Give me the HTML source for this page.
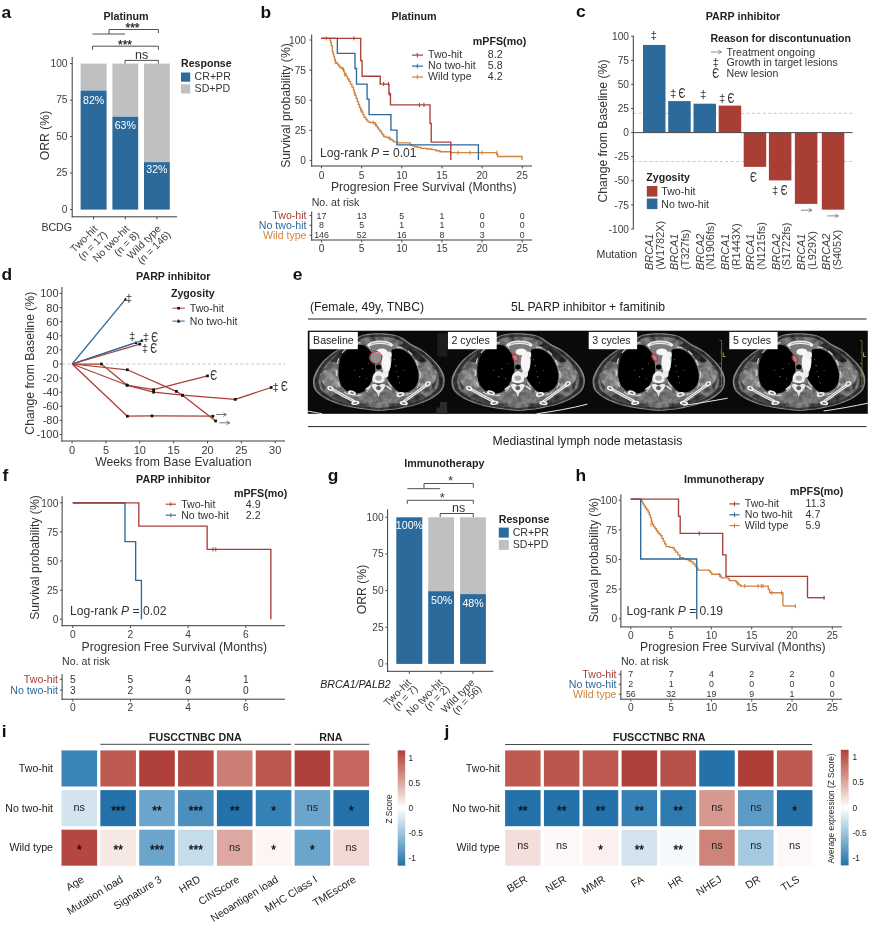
<!DOCTYPE html>
<html lang="en">
<head>
<meta charset="utf-8">
<title>Figure</title>
<style>
html,body{margin:0;padding:0;background:#ffffff;}
body{width:869px;height:928px;overflow:hidden;font-family:"Liberation Sans", Arial, sans-serif;}
svg{display:block;will-change:transform;}
svg text{font-family:"Liberation Sans", Arial, sans-serif;}
</style>
</head>
<body>
<svg width="869" height="928" viewBox="0 0 869 928">
<rect x="0" y="0" width="869" height="928" fill="#ffffff"/>
<g id="panel-a">
<text x="1.40" y="18.20" font-size="17.4" text-anchor="start" fill="#111" font-weight="bold">a</text>
<text x="126.00" y="20.23" font-size="10.7" text-anchor="middle" fill="#222" font-weight="bold">Platinum</text>
<path d="M92.5,34H125" fill="none" stroke="#3c3c3c" stroke-width="0.9" stroke-linejoin="miter"/>
<path d="M109.00,34.00V29.50H158.40V33.00" fill="none" stroke="#3c3c3c" stroke-width="0.9" stroke-linejoin="miter"/>
<text x="132.5" y="31.9" font-size="12" text-anchor="middle" fill="#222" stroke="#222" stroke-width="0.25">***</text>
<path d="M92.50,49.80V46.20H158.40V49.80" fill="none" stroke="#3c3c3c" stroke-width="0.9" stroke-linejoin="miter"/>
<text x="125" y="48.8" font-size="12" text-anchor="middle" fill="#222" stroke="#222" stroke-width="0.25">***</text>
<path d="M125.00,63.80V60.40H158.40V63.80" fill="none" stroke="#3c3c3c" stroke-width="0.9" stroke-linejoin="miter"/>
<text x="141.60" y="59.08" font-size="12.5" text-anchor="middle" fill="#333">ns</text>
<rect x="80.60" y="63.60" width="26.00" height="27.01" fill="#bfc0c2"/>
<rect x="80.60" y="90.61" width="26.00" height="118.99" fill="#2c6a9b"/>
<rect x="112.40" y="63.60" width="25.80" height="53.14" fill="#bfc0c2"/>
<rect x="112.40" y="116.74" width="25.80" height="92.86" fill="#2c6a9b"/>
<rect x="144.00" y="63.60" width="25.80" height="98.55" fill="#bfc0c2"/>
<rect x="144.00" y="162.15" width="25.80" height="47.45" fill="#2c6a9b"/>
<text x="93.60" y="104.09" font-size="10.6" text-anchor="middle" fill="#ffffff">82%</text>
<text x="125.30" y="129.09" font-size="10.6" text-anchor="middle" fill="#ffffff">63%</text>
<text x="156.90" y="173.39" font-size="10.6" text-anchor="middle" fill="#ffffff">32%</text>
<line x1="72.20" y1="57.00" x2="72.20" y2="217.20" stroke="#3c3c3c" stroke-width="1"/>
<line x1="71.70" y1="216.80" x2="177.00" y2="216.80" stroke="#3c3c3c" stroke-width="1"/>
<line x1="70.00" y1="63.60" x2="72.20" y2="63.60" stroke="#3c3c3c" stroke-width="0.9"/>
<text x="67.50" y="66.75" font-size="10.2" text-anchor="end" fill="#3d3d3d">100</text>
<line x1="70.00" y1="100.10" x2="72.20" y2="100.10" stroke="#3c3c3c" stroke-width="0.9"/>
<text x="67.50" y="103.25" font-size="10.2" text-anchor="end" fill="#3d3d3d">75</text>
<line x1="70.00" y1="136.60" x2="72.20" y2="136.60" stroke="#3c3c3c" stroke-width="0.9"/>
<text x="67.50" y="139.75" font-size="10.2" text-anchor="end" fill="#3d3d3d">50</text>
<line x1="70.00" y1="173.10" x2="72.20" y2="173.10" stroke="#3c3c3c" stroke-width="0.9"/>
<text x="67.50" y="176.25" font-size="10.2" text-anchor="end" fill="#3d3d3d">25</text>
<line x1="70.00" y1="209.60" x2="72.20" y2="209.60" stroke="#3c3c3c" stroke-width="0.9"/>
<text x="67.50" y="212.75" font-size="10.2" text-anchor="end" fill="#3d3d3d">0</text>
<line x1="93.60" y1="216.80" x2="93.60" y2="219.40" stroke="#3c3c3c" stroke-width="0.9"/>
<line x1="125.30" y1="216.80" x2="125.30" y2="219.40" stroke="#3c3c3c" stroke-width="0.9"/>
<line x1="156.90" y1="216.80" x2="156.90" y2="219.40" stroke="#3c3c3c" stroke-width="0.9"/>
<text transform="translate(44.50,135.50) rotate(-90)" x="0" y="4.37" font-size="12.2" text-anchor="middle" fill="#333333">ORR (%)</text>
<text x="41.40" y="231.19" font-size="10.6" text-anchor="start" fill="#333">BCDG</text>
<g transform="translate(95.10,226.3) rotate(-45)"><text x="0" y="4.5" font-size="10.4" text-anchor="end" fill="#3d3d3d">Two-hit</text><text x="2.8" y="15.4" font-size="10.4" text-anchor="end" fill="#3d3d3d">(n = 17)</text></g>
<g transform="translate(126.80,226.3) rotate(-45)"><text x="0" y="4.5" font-size="10.4" text-anchor="end" fill="#3d3d3d">No two-hit</text><text x="2.8" y="15.4" font-size="10.4" text-anchor="end" fill="#3d3d3d">(n = 8)</text></g>
<g transform="translate(158.40,226.3) rotate(-45)"><text x="0" y="4.5" font-size="10.4" text-anchor="end" fill="#3d3d3d">Wild type</text><text x="2.8" y="15.4" font-size="10.4" text-anchor="end" fill="#3d3d3d">(n = 146)</text></g>
<text x="181.00" y="66.79" font-size="10.6" text-anchor="start" fill="#222" font-weight="bold">Response</text>
<rect x="181.00" y="72.50" width="9.20" height="9.20" fill="#2c6a9b"/>
<text x="194.60" y="80.39" font-size="10.6" text-anchor="start" fill="#333">CR+PR</text>
<rect x="181.00" y="84.30" width="9.20" height="9.20" fill="#bfc0c2"/>
<text x="194.60" y="92.39" font-size="10.6" text-anchor="start" fill="#333">SD+PD</text>
</g>
<g id="panel-b">
<text x="260.40" y="18.00" font-size="17.4" text-anchor="start" fill="#111" font-weight="bold">b</text>
<text x="414.00" y="20.23" font-size="10.7" text-anchor="middle" fill="#222" font-weight="bold">Platinum</text>
<path d="M321.34,38.34H329.34V38.34H330.09V40.30H330.70V42.94H331.30V45.58H332.36V51.62H333.11V54.26H333.87V56.91H334.62V59.55H335.38V62.19H336.51V63.32H337.64V64.45H338.77V65.96H339.91V67.47H341.42V68.23H342.92V68.98H343.68V71.25H344.43V73.51H345.94V76.15H347.45V78.79H348.96V81.43H350.47V84.08H351.98V87.09H353.49V90.11H354.25V92.75H355.00V95.40H356.13V98.42H357.26V101.43H358.40V104.45H359.53V107.47H360.66V109.74H361.79V112.00H362.92V114.64H364.06V117.28H365.57V119.17H367.08V121.06H368.58V121.81H370.09V122.57H373.87V122.57H375.00V124.08H376.13V125.58H377.26V127.47H378.40V129.36H379.91V131.25H381.42V133.13H382.55V134.79H383.68V136.45H385.57V137.06H387.45V137.66H388.96V138.42H390.47V139.17H391.98V140.53H393.49V141.89H397.26V142.94H409.34V142.94H410.09V144.91H412.36V145.81H414.62V146.72H417.64V147.32H420.66V147.92H421.46V148.32H426.76V148.98H432.05V149.64H436.02V150.70H439.99V151.76H450.58V152.55H495.58V152.55H496.64V154.54H497.69V156.52H522.05V156.52H522.05V159.96" fill="none" stroke="#cf843f" stroke-width="1.35" stroke-linejoin="miter"/>
<path d="M326.32,36.24V40.44M335.38,60.09V64.29M342.92,66.88V71.08M344.43,72.16V76.36M354.55,91.03V95.23M361.04,108.39V112.59M373.11,120.47V124.67M375.38,122.28V126.48M389.72,136.32V140.52M458.00,150.50V154.70M470.00,150.50V154.70M482.00,150.50V154.70M497.00,150.50V154.70" fill="none" stroke="#cf843f" stroke-width="1.0" stroke-linejoin="miter"/>
<path d="M321.34,38.34H337.34V53.43H355.00V68.53H356.51V84.08H367.08V99.17H369.04V114.57H390.92V130.11H396.96V144.91H478.40V160.00" fill="none" stroke="#2c6a9b" stroke-width="1.35" stroke-linejoin="miter"/>
<path d="M321.34,38.34H360.74V60.68H362.09V76.23H380.21V84.08H388.96V93.58H390.47V104.91H430.02V123.32H431.23V142.19H450.80V160.00" fill="none" stroke="#a93f34" stroke-width="1.35" stroke-linejoin="miter"/>
<path d="M353.94,36.24V40.44M383.68,81.98V86.18M388.51,81.98V86.18M389.26,91.48V95.68M419.45,102.81V107.01M423.98,102.81V107.01" fill="none" stroke="#a93f34" stroke-width="1.0" stroke-linejoin="miter"/>
<line x1="311.70" y1="34.50" x2="311.70" y2="166.50" stroke="#3c3c3c" stroke-width="1"/>
<line x1="311.20" y1="166.00" x2="532.00" y2="166.00" stroke="#3c3c3c" stroke-width="1"/>
<line x1="309.50" y1="160.40" x2="311.70" y2="160.40" stroke="#3c3c3c" stroke-width="0.9"/>
<text x="306.00" y="164.05" font-size="10.2" text-anchor="end" fill="#3d3d3d">0</text>
<line x1="309.50" y1="130.30" x2="311.70" y2="130.30" stroke="#3c3c3c" stroke-width="0.9"/>
<text x="306.00" y="133.95" font-size="10.2" text-anchor="end" fill="#3d3d3d">25</text>
<line x1="309.50" y1="100.20" x2="311.70" y2="100.20" stroke="#3c3c3c" stroke-width="0.9"/>
<text x="306.00" y="103.85" font-size="10.2" text-anchor="end" fill="#3d3d3d">50</text>
<line x1="309.50" y1="70.10" x2="311.70" y2="70.10" stroke="#3c3c3c" stroke-width="0.9"/>
<text x="306.00" y="73.75" font-size="10.2" text-anchor="end" fill="#3d3d3d">75</text>
<line x1="309.50" y1="40.00" x2="311.70" y2="40.00" stroke="#3c3c3c" stroke-width="0.9"/>
<text x="306.00" y="43.65" font-size="10.2" text-anchor="end" fill="#3d3d3d">100</text>
<line x1="321.50" y1="166.00" x2="321.50" y2="168.40" stroke="#3c3c3c" stroke-width="0.9"/>
<text x="321.50" y="178.95" font-size="10.2" text-anchor="middle" fill="#3d3d3d">0</text>
<line x1="321.50" y1="240.00" x2="321.50" y2="242.40" stroke="#3c3c3c" stroke-width="0.9"/>
<text x="321.50" y="252.35" font-size="10.2" text-anchor="middle" fill="#3d3d3d">0</text>
<line x1="361.65" y1="166.00" x2="361.65" y2="168.40" stroke="#3c3c3c" stroke-width="0.9"/>
<text x="361.65" y="178.95" font-size="10.2" text-anchor="middle" fill="#3d3d3d">5</text>
<line x1="361.65" y1="240.00" x2="361.65" y2="242.40" stroke="#3c3c3c" stroke-width="0.9"/>
<text x="361.65" y="252.35" font-size="10.2" text-anchor="middle" fill="#3d3d3d">5</text>
<line x1="401.80" y1="166.00" x2="401.80" y2="168.40" stroke="#3c3c3c" stroke-width="0.9"/>
<text x="401.80" y="178.95" font-size="10.2" text-anchor="middle" fill="#3d3d3d">10</text>
<line x1="401.80" y1="240.00" x2="401.80" y2="242.40" stroke="#3c3c3c" stroke-width="0.9"/>
<text x="401.80" y="252.35" font-size="10.2" text-anchor="middle" fill="#3d3d3d">10</text>
<line x1="441.95" y1="166.00" x2="441.95" y2="168.40" stroke="#3c3c3c" stroke-width="0.9"/>
<text x="441.95" y="178.95" font-size="10.2" text-anchor="middle" fill="#3d3d3d">15</text>
<line x1="441.95" y1="240.00" x2="441.95" y2="242.40" stroke="#3c3c3c" stroke-width="0.9"/>
<text x="441.95" y="252.35" font-size="10.2" text-anchor="middle" fill="#3d3d3d">15</text>
<line x1="482.10" y1="166.00" x2="482.10" y2="168.40" stroke="#3c3c3c" stroke-width="0.9"/>
<text x="482.10" y="178.95" font-size="10.2" text-anchor="middle" fill="#3d3d3d">20</text>
<line x1="482.10" y1="240.00" x2="482.10" y2="242.40" stroke="#3c3c3c" stroke-width="0.9"/>
<text x="482.10" y="252.35" font-size="10.2" text-anchor="middle" fill="#3d3d3d">20</text>
<line x1="522.25" y1="166.00" x2="522.25" y2="168.40" stroke="#3c3c3c" stroke-width="0.9"/>
<text x="522.25" y="178.95" font-size="10.2" text-anchor="middle" fill="#3d3d3d">25</text>
<line x1="522.25" y1="240.00" x2="522.25" y2="242.40" stroke="#3c3c3c" stroke-width="0.9"/>
<text x="522.25" y="252.35" font-size="10.2" text-anchor="middle" fill="#3d3d3d">25</text>
<text x="423.70" y="190.97" font-size="12.2" text-anchor="middle" fill="#333333">Progresion Free Survival (Months)</text>
<text transform="translate(286.00,105.50) rotate(-90)" x="0" y="4.37" font-size="12.2" text-anchor="middle" fill="#333333">Survival probability (%)</text>
<text x="320.00" y="157.13" font-size="12.1" text-anchor="start" fill="#333333">Log-rank <tspan font-style="italic">P</tspan> = 0.01</text>
<text x="499.50" y="44.63" font-size="10.7" text-anchor="middle" fill="#222" font-weight="bold">mPFS(mo)</text>
<line x1="412.00" y1="55.10" x2="423.00" y2="55.10" stroke="#a93f34" stroke-width="1.2"/>
<line x1="417.30" y1="52.80" x2="417.30" y2="57.40" stroke="#a93f34" stroke-width="1.0"/>
<text x="428.00" y="58.09" font-size="10.6" text-anchor="start" fill="#333333">Two-hit</text>
<text x="487.80" y="58.09" font-size="10.6" text-anchor="start" fill="#333333">8.2</text>
<line x1="412.00" y1="66.10" x2="423.00" y2="66.10" stroke="#2c6a9b" stroke-width="1.2"/>
<line x1="417.30" y1="63.80" x2="417.30" y2="68.40" stroke="#2c6a9b" stroke-width="1.0"/>
<text x="428.00" y="69.09" font-size="10.6" text-anchor="start" fill="#333333">No two-hit</text>
<text x="487.80" y="69.09" font-size="10.6" text-anchor="start" fill="#333333">5.8</text>
<line x1="412.00" y1="77.00" x2="423.00" y2="77.00" stroke="#cf843f" stroke-width="1.2"/>
<line x1="417.30" y1="74.70" x2="417.30" y2="79.30" stroke="#cf843f" stroke-width="1.0"/>
<text x="428.00" y="79.99" font-size="10.6" text-anchor="start" fill="#333333">Wild type</text>
<text x="487.80" y="79.99" font-size="10.6" text-anchor="start" fill="#333333">4.2</text>
<text x="311.70" y="206.39" font-size="10.6" text-anchor="start" fill="#333333">No. at risk</text>
<line x1="311.70" y1="211.50" x2="311.70" y2="240.50" stroke="#3c3c3c" stroke-width="1"/>
<line x1="311.20" y1="240.00" x2="532.00" y2="240.00" stroke="#3c3c3c" stroke-width="1"/>
<text x="306.50" y="219.29" font-size="10.6" text-anchor="end" fill="#a93f34">Two-hit</text>
<line x1="309.50" y1="215.50" x2="311.70" y2="215.50" stroke="#3c3c3c" stroke-width="0.9"/>
<text x="321.50" y="218.65" font-size="8.8" text-anchor="middle" fill="#333">17</text>
<text x="361.65" y="218.65" font-size="8.8" text-anchor="middle" fill="#333">13</text>
<text x="401.80" y="218.65" font-size="8.8" text-anchor="middle" fill="#333">5</text>
<text x="441.95" y="218.65" font-size="8.8" text-anchor="middle" fill="#333">1</text>
<text x="482.10" y="218.65" font-size="8.8" text-anchor="middle" fill="#333">0</text>
<text x="522.25" y="218.65" font-size="8.8" text-anchor="middle" fill="#333">0</text>
<text x="306.50" y="229.09" font-size="10.6" text-anchor="end" fill="#2c6a9b">No two-hit</text>
<line x1="309.50" y1="225.30" x2="311.70" y2="225.30" stroke="#3c3c3c" stroke-width="0.9"/>
<text x="321.50" y="228.45" font-size="8.8" text-anchor="middle" fill="#333">8</text>
<text x="361.65" y="228.45" font-size="8.8" text-anchor="middle" fill="#333">5</text>
<text x="401.80" y="228.45" font-size="8.8" text-anchor="middle" fill="#333">1</text>
<text x="441.95" y="228.45" font-size="8.8" text-anchor="middle" fill="#333">1</text>
<text x="482.10" y="228.45" font-size="8.8" text-anchor="middle" fill="#333">0</text>
<text x="522.25" y="228.45" font-size="8.8" text-anchor="middle" fill="#333">0</text>
<text x="306.50" y="239.09" font-size="10.6" text-anchor="end" fill="#cf843f">Wild type</text>
<line x1="309.50" y1="235.30" x2="311.70" y2="235.30" stroke="#3c3c3c" stroke-width="0.9"/>
<text x="321.50" y="238.45" font-size="8.8" text-anchor="middle" fill="#333">146</text>
<text x="361.65" y="238.45" font-size="8.8" text-anchor="middle" fill="#333">52</text>
<text x="401.80" y="238.45" font-size="8.8" text-anchor="middle" fill="#333">16</text>
<text x="441.95" y="238.45" font-size="8.8" text-anchor="middle" fill="#333">8</text>
<text x="482.10" y="238.45" font-size="8.8" text-anchor="middle" fill="#333">3</text>
<text x="522.25" y="238.45" font-size="8.8" text-anchor="middle" fill="#333">0</text>
</g>
<g id="panel-c">
<text x="576.00" y="17.40" font-size="17.4" text-anchor="start" fill="#111" font-weight="bold">c</text>
<text x="743.00" y="20.23" font-size="10.7" text-anchor="middle" fill="#222" font-weight="bold">PARP inhibitor</text>
<line x1="633.30" y1="113.33" x2="852.60" y2="113.33" stroke="#c2c2c2" stroke-width="0.9" stroke-dasharray="3,2.4"/>
<line x1="633.30" y1="161.50" x2="852.60" y2="161.50" stroke="#c2c2c2" stroke-width="0.9" stroke-dasharray="3,2.4"/>
<rect x="643.00" y="44.92" width="22.50" height="87.68" fill="#2c6a9b"/>
<rect x="668.20" y="101.09" width="22.50" height="31.51" fill="#2c6a9b"/>
<rect x="693.50" y="103.69" width="22.50" height="28.91" fill="#2c6a9b"/>
<rect x="718.70" y="105.62" width="22.50" height="26.98" fill="#a93f34"/>
<rect x="743.70" y="132.60" width="22.50" height="34.30" fill="#a93f34"/>
<rect x="768.90" y="132.60" width="22.50" height="47.79" fill="#a93f34"/>
<rect x="794.90" y="132.60" width="22.50" height="71.30" fill="#a93f34"/>
<rect x="821.80" y="132.60" width="22.50" height="77.08" fill="#a93f34"/>
<line x1="633.30" y1="132.60" x2="852.60" y2="132.60" stroke="#4a4a4a" stroke-width="1"/>
<line x1="633.30" y1="35.75" x2="633.30" y2="229.45" stroke="#3c3c3c" stroke-width="1"/>
<line x1="631.10" y1="36.25" x2="633.30" y2="36.25" stroke="#3c3c3c" stroke-width="0.9"/>
<text x="629.00" y="39.90" font-size="10.2" text-anchor="end" fill="#3d3d3d">100</text>
<line x1="631.10" y1="60.34" x2="633.30" y2="60.34" stroke="#3c3c3c" stroke-width="0.9"/>
<text x="629.00" y="63.99" font-size="10.2" text-anchor="end" fill="#3d3d3d">75</text>
<line x1="631.10" y1="84.42" x2="633.30" y2="84.42" stroke="#3c3c3c" stroke-width="0.9"/>
<text x="629.00" y="88.08" font-size="10.2" text-anchor="end" fill="#3d3d3d">50</text>
<line x1="631.10" y1="108.51" x2="633.30" y2="108.51" stroke="#3c3c3c" stroke-width="0.9"/>
<text x="629.00" y="112.16" font-size="10.2" text-anchor="end" fill="#3d3d3d">25</text>
<line x1="631.10" y1="132.60" x2="633.30" y2="132.60" stroke="#3c3c3c" stroke-width="0.9"/>
<text x="629.00" y="136.25" font-size="10.2" text-anchor="end" fill="#3d3d3d">0</text>
<line x1="631.10" y1="156.69" x2="633.30" y2="156.69" stroke="#3c3c3c" stroke-width="0.9"/>
<text x="629.00" y="160.34" font-size="10.2" text-anchor="end" fill="#3d3d3d">-25</text>
<line x1="631.10" y1="180.78" x2="633.30" y2="180.78" stroke="#3c3c3c" stroke-width="0.9"/>
<text x="629.00" y="184.43" font-size="10.2" text-anchor="end" fill="#3d3d3d">-50</text>
<line x1="631.10" y1="204.86" x2="633.30" y2="204.86" stroke="#3c3c3c" stroke-width="0.9"/>
<text x="629.00" y="208.51" font-size="10.2" text-anchor="end" fill="#3d3d3d">-75</text>
<line x1="631.10" y1="228.95" x2="633.30" y2="228.95" stroke="#3c3c3c" stroke-width="0.9"/>
<text x="629.00" y="232.60" font-size="10.2" text-anchor="end" fill="#3d3d3d">-100</text>
<text transform="translate(603.00,131.00) rotate(-90)" x="0" y="4.37" font-size="12.2" text-anchor="middle" fill="#333333">Change from Baseline (%)</text>
<text x="653.80" y="39.20" font-size="11.5" text-anchor="middle" fill="#333" font-family='"Liberation Serif", "DejaVu Serif", serif'>‡</text>
<text x="673.20" y="96.80" font-size="11.5" text-anchor="middle" fill="#333" font-family='"Liberation Serif", "DejaVu Serif", serif'>‡</text>
<text transform="translate(682.00,97.78) scale(0.66,1)" x="0" y="0" font-size="14.5" text-anchor="middle" fill="#333" font-family='"Liberation Serif", "DejaVu Serif", serif'>Є</text>
<text x="703.30" y="98.39" font-size="11.5" text-anchor="middle" fill="#333" font-family='"Liberation Serif", "DejaVu Serif", serif'>‡</text>
<text x="722.20" y="102.00" font-size="11.5" text-anchor="middle" fill="#333" font-family='"Liberation Serif", "DejaVu Serif", serif'>‡</text>
<text transform="translate(731.00,102.98) scale(0.66,1)" x="0" y="0" font-size="14.5" text-anchor="middle" fill="#333" font-family='"Liberation Serif", "DejaVu Serif", serif'>Є</text>
<text transform="translate(753.40,181.98) scale(0.66,1)" x="0" y="0" font-size="14.5" text-anchor="middle" fill="#333" font-family='"Liberation Serif", "DejaVu Serif", serif'>Є</text>
<text x="775.30" y="194.09" font-size="11.5" text-anchor="middle" fill="#333" font-family='"Liberation Serif", "DejaVu Serif", serif'>‡</text>
<text transform="translate(784.10,195.09) scale(0.66,1)" x="0" y="0" font-size="14.5" text-anchor="middle" fill="#333" font-family='"Liberation Serif", "DejaVu Serif", serif'>Є</text>
<path d="M801.25,210.20H811.75M809.15,208.50L811.75,210.20L809.15,211.90" fill="none" stroke="#6a6a6a" stroke-width="0.8" stroke-linejoin="round" stroke-linecap="round"/>
<path d="M827.65,215.90H838.15M835.55,214.20L838.15,215.90L835.55,217.60" fill="none" stroke="#6a6a6a" stroke-width="0.8" stroke-linejoin="round" stroke-linecap="round"/>
<text x="710.40" y="41.99" font-size="10.6" text-anchor="start" fill="#222" font-weight="bold">Reason for discontunuation</text>
<path d="M711.30,52.00H721.30M718.70,50.30L721.30,52.00L718.70,53.70" fill="none" stroke="#666" stroke-width="0.7" stroke-linejoin="round" stroke-linecap="round"/>
<text x="726.50" y="55.89" font-size="10.6" text-anchor="start" fill="#333333">Treatment ongoing</text>
<text x="715.60" y="66.30" font-size="11.5" text-anchor="middle" fill="#333" font-family='"Liberation Serif", "DejaVu Serif", serif'>‡</text>
<text x="726.50" y="66.49" font-size="10.6" text-anchor="start" fill="#333333">Growth in target lesions</text>
<text transform="translate(715.60,77.78) scale(0.66,1)" x="0" y="0" font-size="14.5" text-anchor="middle" fill="#333" font-family='"Liberation Serif", "DejaVu Serif", serif'>Є</text>
<text x="726.50" y="77.19" font-size="10.6" text-anchor="start" fill="#333333">New lesion</text>
<text x="646.30" y="181.09" font-size="10.6" text-anchor="start" fill="#222" font-weight="bold">Zygosity</text>
<rect x="646.80" y="186.00" width="10.60" height="10.60" fill="#a93f34"/>
<text x="661.30" y="195.39" font-size="10.6" text-anchor="start" fill="#333333">Two-hit</text>
<rect x="646.80" y="198.50" width="10.60" height="10.60" fill="#2c6a9b"/>
<text x="661.30" y="207.79" font-size="10.6" text-anchor="start" fill="#333333">No two-hit</text>
<text x="596.60" y="258.39" font-size="10.6" text-anchor="start" fill="#333333">Mutation</text>
<g transform="translate(654.50,269.9) rotate(-90)"><text x="0" y="-1.6" font-size="10.9" font-style="italic" fill="#3d3d3d">BRCA1</text><text x="0" y="9.2" font-size="10.9" fill="#3d3d3d">(W1782X)</text></g>
<g transform="translate(679.84,269.9) rotate(-90)"><text x="0" y="-1.6" font-size="10.9" font-style="italic" fill="#3d3d3d">BRCA1</text><text x="0" y="9.2" font-size="10.9" fill="#3d3d3d">(T327fs)</text></g>
<g transform="translate(705.18,269.9) rotate(-90)"><text x="0" y="-1.6" font-size="10.9" font-style="italic" fill="#3d3d3d">BRCA2</text><text x="0" y="9.2" font-size="10.9" fill="#3d3d3d">(N1906fs)</text></g>
<g transform="translate(730.52,269.9) rotate(-90)"><text x="0" y="-1.6" font-size="10.9" font-style="italic" fill="#3d3d3d">BRCA1</text><text x="0" y="9.2" font-size="10.9" fill="#3d3d3d">(R1443X)</text></g>
<g transform="translate(755.86,269.9) rotate(-90)"><text x="0" y="-1.6" font-size="10.9" font-style="italic" fill="#3d3d3d">BRCA1</text><text x="0" y="9.2" font-size="10.9" fill="#3d3d3d">(N1215fs)</text></g>
<g transform="translate(781.20,269.9) rotate(-90)"><text x="0" y="-1.6" font-size="10.9" font-style="italic" fill="#3d3d3d">BRCA2</text><text x="0" y="9.2" font-size="10.9" fill="#3d3d3d">(S1722fs)</text></g>
<g transform="translate(806.54,269.9) rotate(-90)"><text x="0" y="-1.6" font-size="10.9" font-style="italic" fill="#3d3d3d">BRCA1</text><text x="0" y="9.2" font-size="10.9" fill="#3d3d3d">(L929X)</text></g>
<g transform="translate(831.88,269.9) rotate(-90)"><text x="0" y="-1.6" font-size="10.9" font-style="italic" fill="#3d3d3d">BRCA2</text><text x="0" y="9.2" font-size="10.9" fill="#3d3d3d">(S405X)</text></g>
</g>
<g id="panel-d">
<text x="1.40" y="280.40" font-size="17.4" text-anchor="start" fill="#111" font-weight="bold">d</text>
<text x="173.30" y="280.03" font-size="10.7" text-anchor="middle" fill="#222" font-weight="bold">PARP inhibitor</text>
<line x1="62.00" y1="364.00" x2="285.00" y2="364.00" stroke="#bdbdbd" stroke-width="0.9" stroke-dasharray="3,2.4"/>
<path d="M72.10,364.00L125.45,299.28" fill="none" stroke="#2c6a9b" stroke-width="1.25" stroke-linejoin="round"/>
<path d="M125.45,297.38L127.15,300.48H123.75Z" fill="#111"/>
<path d="M72.10,364.00L135.94,342.71" fill="none" stroke="#2c6a9b" stroke-width="1.25" stroke-linejoin="round"/>
<path d="M135.94,340.81L137.64,343.91H134.24Z" fill="#111"/>
<path d="M72.10,364.00L141.83,340.52" fill="none" stroke="#2c6a9b" stroke-width="1.25" stroke-linejoin="round"/>
<path d="M141.83,338.62L143.53,341.72H140.13Z" fill="#111"/>
<path d="M72.10,364.00L139.80,344.12" fill="none" stroke="#a93f34" stroke-width="1.25" stroke-linejoin="round"/>
<rect x="138.45" y="342.77" width="2.70" height="2.70" fill="#111"/>
<path d="M72.10,364.00L101.41,364.00L126.80,385.01L153.61,389.73L207.50,375.91" fill="none" stroke="#a93f34" stroke-width="1.25" stroke-linejoin="round"/>
<rect x="100.06" y="362.65" width="2.70" height="2.70" fill="#111"/>
<rect x="125.45" y="383.66" width="2.70" height="2.70" fill="#111"/>
<rect x="152.26" y="388.38" width="2.70" height="2.70" fill="#111"/>
<rect x="206.15" y="374.56" width="2.70" height="2.70" fill="#111"/>
<path d="M72.10,364.00L127.34,369.78L176.36,391.35L182.45,395.23L215.62,420.96" fill="none" stroke="#a93f34" stroke-width="1.25" stroke-linejoin="round"/>
<rect x="125.99" y="368.43" width="2.70" height="2.70" fill="#111"/>
<rect x="175.01" y="390.00" width="2.70" height="2.70" fill="#111"/>
<rect x="181.10" y="393.88" width="2.70" height="2.70" fill="#111"/>
<rect x="214.27" y="419.61" width="2.70" height="2.70" fill="#111"/>
<path d="M72.10,364.00L127.34,385.29L153.61,392.20L182.45,395.23L235.26,399.39L271.14,387.48" fill="none" stroke="#a93f34" stroke-width="1.25" stroke-linejoin="round"/>
<rect x="125.99" y="383.94" width="2.70" height="2.70" fill="#111"/>
<rect x="152.26" y="390.85" width="2.70" height="2.70" fill="#111"/>
<rect x="181.10" y="393.88" width="2.70" height="2.70" fill="#111"/>
<rect x="233.91" y="398.04" width="2.70" height="2.70" fill="#111"/>
<rect x="269.79" y="386.13" width="2.70" height="2.70" fill="#111"/>
<path d="M72.10,364.00L127.34,416.24L151.99,415.96L212.92,416.24" fill="none" stroke="#a93f34" stroke-width="1.25" stroke-linejoin="round"/>
<rect x="125.99" y="414.89" width="2.70" height="2.70" fill="#111"/>
<rect x="150.64" y="414.61" width="2.70" height="2.70" fill="#111"/>
<rect x="211.57" y="414.89" width="2.70" height="2.70" fill="#111"/>
<text x="129.00" y="302.40" font-size="11.5" text-anchor="middle" fill="#333" font-family='"Liberation Serif", "DejaVu Serif", serif'>‡</text>
<text x="132.30" y="340.19" font-size="11.5" text-anchor="middle" fill="#333" font-family='"Liberation Serif", "DejaVu Serif", serif'>‡</text>
<text x="145.90" y="340.80" font-size="11.5" text-anchor="middle" fill="#333" font-family='"Liberation Serif", "DejaVu Serif", serif'>‡</text>
<text transform="translate(154.70,341.79) scale(0.66,1)" x="0" y="0" font-size="14.5" text-anchor="middle" fill="#333" font-family='"Liberation Serif", "DejaVu Serif", serif'>Є</text>
<text x="145.00" y="351.80" font-size="11.5" text-anchor="middle" fill="#333" font-family='"Liberation Serif", "DejaVu Serif", serif'>‡</text>
<text transform="translate(153.80,352.79) scale(0.66,1)" x="0" y="0" font-size="14.5" text-anchor="middle" fill="#333" font-family='"Liberation Serif", "DejaVu Serif", serif'>Є</text>
<text transform="translate(213.80,380.39) scale(0.66,1)" x="0" y="0" font-size="14.5" text-anchor="middle" fill="#333" font-family='"Liberation Serif", "DejaVu Serif", serif'>Є</text>
<text x="275.60" y="390.50" font-size="11.5" text-anchor="middle" fill="#333" font-family='"Liberation Serif", "DejaVu Serif", serif'>‡</text>
<text transform="translate(284.40,391.49) scale(0.66,1)" x="0" y="0" font-size="14.5" text-anchor="middle" fill="#333" font-family='"Liberation Serif", "DejaVu Serif", serif'>Є</text>
<path d="M216.55,414.50H226.25M223.65,412.80L226.25,414.50L223.65,416.20" fill="none" stroke="#555" stroke-width="0.8" stroke-linejoin="round" stroke-linecap="round"/>
<path d="M219.85,422.80H229.55M226.95,421.10L229.55,422.80L226.95,424.50" fill="none" stroke="#555" stroke-width="0.8" stroke-linejoin="round" stroke-linecap="round"/>
<line x1="61.90" y1="287.00" x2="61.90" y2="441.50" stroke="#3c3c3c" stroke-width="1"/>
<line x1="61.40" y1="441.00" x2="285.00" y2="441.00" stroke="#3c3c3c" stroke-width="1"/>
<line x1="59.70" y1="434.50" x2="61.90" y2="434.50" stroke="#3c3c3c" stroke-width="0.9"/>
<text x="58.60" y="438.44" font-size="11" text-anchor="end" fill="#3a3a3a">-100</text>
<line x1="59.70" y1="420.40" x2="61.90" y2="420.40" stroke="#3c3c3c" stroke-width="0.9"/>
<text x="58.60" y="424.34" font-size="11" text-anchor="end" fill="#3a3a3a">-80</text>
<line x1="59.70" y1="406.30" x2="61.90" y2="406.30" stroke="#3c3c3c" stroke-width="0.9"/>
<text x="58.60" y="410.24" font-size="11" text-anchor="end" fill="#3a3a3a">-60</text>
<line x1="59.70" y1="392.20" x2="61.90" y2="392.20" stroke="#3c3c3c" stroke-width="0.9"/>
<text x="58.60" y="396.14" font-size="11" text-anchor="end" fill="#3a3a3a">-40</text>
<line x1="59.70" y1="378.10" x2="61.90" y2="378.10" stroke="#3c3c3c" stroke-width="0.9"/>
<text x="58.60" y="382.04" font-size="11" text-anchor="end" fill="#3a3a3a">-20</text>
<line x1="59.70" y1="364.00" x2="61.90" y2="364.00" stroke="#3c3c3c" stroke-width="0.9"/>
<text x="58.60" y="367.94" font-size="11" text-anchor="end" fill="#3a3a3a">0</text>
<line x1="59.70" y1="349.90" x2="61.90" y2="349.90" stroke="#3c3c3c" stroke-width="0.9"/>
<text x="58.60" y="353.84" font-size="11" text-anchor="end" fill="#3a3a3a">20</text>
<line x1="59.70" y1="335.80" x2="61.90" y2="335.80" stroke="#3c3c3c" stroke-width="0.9"/>
<text x="58.60" y="339.74" font-size="11" text-anchor="end" fill="#3a3a3a">40</text>
<line x1="59.70" y1="321.70" x2="61.90" y2="321.70" stroke="#3c3c3c" stroke-width="0.9"/>
<text x="58.60" y="325.64" font-size="11" text-anchor="end" fill="#3a3a3a">60</text>
<line x1="59.70" y1="307.60" x2="61.90" y2="307.60" stroke="#3c3c3c" stroke-width="0.9"/>
<text x="58.60" y="311.54" font-size="11" text-anchor="end" fill="#3a3a3a">80</text>
<line x1="59.70" y1="293.50" x2="61.90" y2="293.50" stroke="#3c3c3c" stroke-width="0.9"/>
<text x="58.60" y="297.44" font-size="11" text-anchor="end" fill="#3a3a3a">100</text>
<line x1="72.10" y1="441.00" x2="72.10" y2="443.40" stroke="#3c3c3c" stroke-width="0.9"/>
<text x="72.10" y="454.24" font-size="11" text-anchor="middle" fill="#3a3a3a">0</text>
<line x1="105.95" y1="441.00" x2="105.95" y2="443.40" stroke="#3c3c3c" stroke-width="0.9"/>
<text x="105.95" y="454.24" font-size="11" text-anchor="middle" fill="#3a3a3a">5</text>
<line x1="139.80" y1="441.00" x2="139.80" y2="443.40" stroke="#3c3c3c" stroke-width="0.9"/>
<text x="139.80" y="454.24" font-size="11" text-anchor="middle" fill="#3a3a3a">10</text>
<line x1="173.65" y1="441.00" x2="173.65" y2="443.40" stroke="#3c3c3c" stroke-width="0.9"/>
<text x="173.65" y="454.24" font-size="11" text-anchor="middle" fill="#3a3a3a">15</text>
<line x1="207.50" y1="441.00" x2="207.50" y2="443.40" stroke="#3c3c3c" stroke-width="0.9"/>
<text x="207.50" y="454.24" font-size="11" text-anchor="middle" fill="#3a3a3a">20</text>
<line x1="241.35" y1="441.00" x2="241.35" y2="443.40" stroke="#3c3c3c" stroke-width="0.9"/>
<text x="241.35" y="454.24" font-size="11" text-anchor="middle" fill="#3a3a3a">25</text>
<line x1="275.20" y1="441.00" x2="275.20" y2="443.40" stroke="#3c3c3c" stroke-width="0.9"/>
<text x="275.20" y="454.24" font-size="11" text-anchor="middle" fill="#3a3a3a">30</text>
<text x="173.30" y="465.67" font-size="12.2" text-anchor="middle" fill="#333333">Weeks from Base Evaluation</text>
<text transform="translate(29.60,363.20) rotate(-90)" x="0" y="4.37" font-size="12.2" text-anchor="middle" fill="#333333">Change from Baseline (%)</text>
<text x="171.00" y="297.09" font-size="10.6" text-anchor="start" fill="#222" font-weight="bold">Zygosity</text>
<line x1="172.40" y1="308.20" x2="184.80" y2="308.20" stroke="#a93f34" stroke-width="1.0"/>
<rect x="177.30" y="306.90" width="2.60" height="2.60" fill="#111"/>
<text x="189.80" y="311.89" font-size="10.6" text-anchor="start" fill="#333333">Two-hit</text>
<line x1="172.40" y1="321.10" x2="184.80" y2="321.10" stroke="#2c6a9b" stroke-width="1.0"/>
<path d="M178.6,319.1L180.4,322.4H176.8Z" fill="#111"/>
<text x="189.80" y="324.79" font-size="10.6" text-anchor="start" fill="#333333">No two-hit</text>
</g>
<g id="panel-e">
<text x="292.80" y="280.10" font-size="17.4" text-anchor="start" fill="#111" font-weight="bold">e</text>
<text x="310.00" y="310.97" font-size="12.2" text-anchor="start" fill="#222">(Female, 49y, TNBC)</text>
<text x="511.10" y="310.97" font-size="12.2" text-anchor="start" fill="#222">5L PARP inhibitor + famitinib</text>
<line x1="308.00" y1="319.00" x2="866.50" y2="319.00" stroke="#222" stroke-width="1"/>
<line x1="308.00" y1="426.60" x2="866.50" y2="426.60" stroke="#222" stroke-width="1"/>
<text x="587.40" y="444.97" font-size="12.2" text-anchor="middle" fill="#222">Mediastinal lymph node metastasis</text>
<defs>
<filter id="ctblur" x="-5%" y="-5%" width="110%" height="110%"><feGaussianBlur stdDeviation="0.5"/></filter>
<filter id="ctnoise" x="0" y="0" width="100%" height="100%">
<feTurbulence type="fractalNoise" baseFrequency="0.16" numOctaves="3" seed="7" result="n"/>
<feColorMatrix in="n" type="matrix" values="0 0 0 0 0  0 0 0 0 0  0 0 0 0 0  1.5 1.2 0 0 -1.05" result="a"/>
<feComposite in="a" in2="SourceGraphic" operator="in"/>
</filter>
<g id="ct">
<g filter="url(#ctblur)">
<path d="M70.8,2.6C66.5,2.6 61.4,2.8 57.8,3.5C54.2,4.2 52.1,5.2 49.2,6.9C46.3,8.6 44.3,11.5 40.6,13.8C36.9,16.1 31.1,17.8 26.8,20.7C22.5,23.6 18.0,27.4 14.7,31.1C11.4,34.9 8.5,39.8 6.9,43.2C5.3,46.7 5.1,48.9 5.2,51.8C5.3,54.7 5.9,57.8 7.8,60.4C9.7,63.0 12.7,65.1 16.4,67.3C20.1,69.5 25.6,71.8 30.2,73.4C34.8,75.0 38.8,75.8 44.0,76.8C49.2,77.8 56.8,78.8 61.3,79.4C65.8,80.0 67.3,80.3 70.8,80.3C74.2,80.3 77.8,79.9 82.0,79.4C86.2,78.9 90.9,78.3 95.8,77.3C100.7,76.3 106.4,75.1 111.3,73.4C116.2,71.7 121.3,69.5 125.1,67.3C128.8,65.1 131.8,63.0 133.8,60.4C135.8,57.8 136.6,54.8 136.9,51.8C137.2,48.8 136.9,45.6 135.5,42.3C134.1,39.0 131.8,35.5 128.6,31.9C125.4,28.3 120.8,23.9 116.5,20.7C112.2,17.5 106.4,15.2 102.7,12.9C99.0,10.6 97.3,8.5 94.1,6.9C90.9,5.3 87.6,4.2 83.7,3.5C79.8,2.8 75.1,2.6 70.8,2.6Z" fill="#8a8a8a"/>
<path d="M70.8,3.8C66.6,3.8 61.7,3.9 58.2,4.6C54.7,5.3 52.6,6.3 49.8,7.9C47.0,9.6 45.1,12.4 41.4,14.6C37.8,16.9 32.2,18.5 28.0,21.4C23.8,24.2 19.5,27.8 16.3,31.5C13.0,35.1 10.2,39.9 8.7,43.2C7.2,46.6 6.9,48.8 7.0,51.6C7.2,54.4 7.7,57.4 9.6,59.9C11.4,62.5 14.3,64.5 17.9,66.6C21.6,68.8 26.9,71.0 31.3,72.6C35.8,74.1 39.7,74.9 44.8,75.9C49.8,76.9 57.2,77.8 61.6,78.4C65.9,79.0 67.4,79.3 70.8,79.3C74.2,79.3 77.6,78.9 81.7,78.4C85.7,77.9 90.4,77.3 95.1,76.4C99.8,75.4 105.4,74.2 110.2,72.6C114.9,71.0 119.9,68.8 123.6,66.6C127.2,64.5 130.1,62.5 132.0,59.9C133.9,57.4 134.8,54.5 135.0,51.6C135.3,48.6 135.0,45.6 133.7,42.3C132.3,39.1 130.1,35.7 127.0,32.2C123.9,28.7 119.4,24.4 115.2,21.4C111.0,18.3 105.4,16.0 101.8,13.8C98.2,11.5 96.5,9.5 93.4,7.9C90.4,6.4 87.1,5.3 83.3,4.6C79.6,3.9 75.0,3.8 70.8,3.8Z" fill="#3b3b3b"/>
<path d="M70.8,6.1C66.9,6.1 62.2,6.3 58.9,6.9C55.6,7.6 53.7,8.5 51.0,10.1C48.4,11.6 46.6,14.3 43.2,16.4C39.8,18.5 34.5,20.0 30.5,22.7C26.6,25.3 22.5,28.8 19.5,32.2C16.4,35.6 13.8,40.1 12.3,43.3C10.9,46.4 10.6,48.5 10.8,51.1C10.9,53.8 11.4,56.6 13.2,59.0C14.9,61.4 17.6,63.3 21.0,65.3C24.4,67.3 29.4,69.5 33.7,70.9C37.9,72.3 41.5,73.1 46.3,74.0C51.0,74.9 58.0,75.9 62.1,76.4C66.2,76.9 67.6,77.2 70.8,77.2C74.0,77.2 77.2,76.8 81.0,76.4C84.9,75.9 89.2,75.4 93.7,74.5C98.1,73.6 103.4,72.4 107.9,70.9C112.3,69.4 117.1,67.3 120.5,65.3C123.9,63.3 126.6,61.4 128.4,59.0C130.2,56.6 131.0,53.9 131.3,51.1C131.5,48.4 131.3,45.5 130.0,42.4C128.7,39.4 126.6,36.2 123.7,32.9C120.8,29.6 116.6,25.6 112.6,22.7C108.7,19.8 103.4,17.6 100.0,15.5C96.6,13.4 95.0,11.5 92.1,10.1C89.2,8.6 86.2,7.6 82.6,6.9C79.1,6.3 74.7,6.1 70.8,6.1Z" fill="#7e7e7e"/>
<path d="M46,12 C38,17 30,22 23,30 C27,33 31,32 35,27 C40,21 45,17 50,15Z" fill="#333"/>
<path d="M96,12 C104,17 112,22 119,30 C115,33 111,32 107,27 C102,21 97,17 92,15Z" fill="#333"/>
<path d="M16,38 C12,46 12,54 16,60 C19,58 19,50 21,42Z" fill="#474747"/>
<path d="M126,36 C130,44 130,52 126,58 C123,56 123,48 121,40Z" fill="#474747"/>
<path d="M52,66 C58,70 64,70 70,68 C76,70 84,70 90,66 C84,76 58,76 52,66Z" fill="#5a5a5a"/>
<path d="M24,66 C34,72 46,75 58,76 L58,73 C46,72 36,68 28,63Z" fill="#4b4b4b"/>
<path d="M118,66 C108,72 96,75 84,76 L84,73 C96,72 106,68 114,63Z" fill="#4b4b4b"/>
<path d="M50,64 C56,60 64,60 70.8,66 C77.6,60 85.6,60 91.6,64 C88,72 78,75 70.8,74 C63.6,75 53.6,72 50,64Z" fill="#868686"/>
<path d="M12,44 C16,38 24,36 30,40 C34,46 33,56 28,60 C20,60 13,53 12,44Z" fill="#9c9c9c"/>
<path d="M130,42 C126,36 118,34 112,38 C108,44 109,54 114,58 C122,58 129,51 130,42Z" fill="#9c9c9c"/>
<path d="M40,64 C48,68 56,70 62,70 L63,64 C56,64 48,62 42,58Z" fill="#8c8c8c"/>
<path d="M102,64 C94,68 86,70 80,70 L79,64 C86,64 94,62 100,58Z" fill="#8c8c8c"/>
</g>
<path d="M70.8,3.2C66.5,3.2 61.5,3.4 58.0,4.1C54.4,4.8 52.3,5.8 49.5,7.5C46.7,9.1 44.7,12.0 41.1,14.3C37.4,16.5 31.7,18.2 27.5,21.0C23.2,23.9 18.8,27.6 15.5,31.3C12.3,35.0 9.4,39.8 7.9,43.2C6.3,46.6 6.0,48.9 6.2,51.7C6.3,54.5 6.9,57.6 8.7,60.2C10.6,62.7 13.5,64.8 17.2,67.0C20.9,69.1 26.3,71.4 30.8,73.0C35.3,74.5 39.3,75.3 44.4,76.3C49.5,77.3 57.0,78.3 61.4,78.9C65.8,79.4 67.4,79.8 70.8,79.8C74.2,79.8 77.7,79.4 81.8,78.9C85.9,78.4 90.6,77.8 95.4,76.8C100.2,75.8 105.9,74.6 110.7,73.0C115.5,71.3 120.6,69.1 124.3,67.0C128.0,64.8 130.9,62.7 132.9,60.2C134.8,57.6 135.6,54.7 135.9,51.7C136.2,48.7 135.9,45.6 134.5,42.3C133.2,39.1 130.9,35.6 127.7,32.1C124.6,28.5 120.1,24.2 115.8,21.0C111.6,17.9 105.9,15.6 102.2,13.4C98.5,11.1 96.9,9.0 93.8,7.5C90.6,5.9 87.3,4.8 83.5,4.1C79.7,3.4 75.1,3.2 70.8,3.2Z" fill="#000" filter="url(#ctnoise)" opacity="0.5"/>
<g filter="url(#ctblur)">
<path d="M49.0,12.5C46.1,13.3 41.6,15.2 38.6,17.7C35.6,20.3 32.6,24.1 30.9,28.0C29.3,31.9 28.8,37.1 28.8,41.3C28.7,45.5 29.2,49.8 30.7,53.3C32.2,56.7 34.7,60.0 37.7,62.0C40.7,64.0 45.4,65.1 48.8,65.0C52.2,65.0 55.6,63.6 58.2,61.6C60.8,59.5 62.8,55.7 64.5,52.6C66.2,49.5 67.4,45.8 68.4,43.0C69.5,40.2 70.9,38.6 70.8,35.8C70.8,33.1 69.3,29.4 68.0,26.5C66.7,23.5 65.0,20.2 63.0,18.0C61.0,15.7 58.6,13.6 56.2,12.7C53.9,11.8 52.0,11.7 49.0,12.5Z" fill="none" stroke="#cfcfcf" stroke-width="1.15" stroke-dasharray="6 6"/>
<path d="M80.7,19.4C81.5,18.2 84.6,16.8 87.3,16.6C89.9,16.3 93.6,16.4 96.6,17.9C99.7,19.4 103.1,22.2 105.6,25.5C108.0,28.8 110.1,33.5 111.2,37.5C112.4,41.5 113.1,45.7 112.6,49.3C112.0,52.9 110.2,56.7 108.0,59.1C105.8,61.5 102.3,63.1 99.3,63.7C96.2,64.2 92.5,63.7 89.7,62.1C86.8,60.6 84.4,57.0 82.3,54.3C80.1,51.6 78.4,48.3 77.0,46.0C75.7,43.7 73.8,42.1 74.2,40.5C74.6,39.0 78.2,38.6 79.6,36.8C81.1,35.1 82.4,32.0 82.9,29.9C83.4,27.7 82.8,25.5 82.5,23.8C82.1,22.0 79.9,20.6 80.7,19.4Z" fill="none" stroke="#cfcfcf" stroke-width="1.15" stroke-dasharray="6 6" stroke-dashoffset="3"/>
<path d="M49.2,14.6C46.5,15.4 42.4,17.0 39.6,19.4C36.8,21.8 34.1,25.2 32.6,28.8C31.1,32.4 30.6,37.1 30.6,41.0C30.6,44.9 31.0,48.8 32.4,52.0C33.8,55.2 36.0,58.2 38.8,60.0C41.6,61.8 45.9,62.9 49.0,62.8C52.1,62.7 55.2,61.5 57.6,59.6C60.0,57.7 61.8,54.2 63.4,51.4C65.0,48.6 66.0,45.2 67.0,42.6C68.0,40.0 69.3,38.5 69.2,36.0C69.1,33.5 67.8,30.1 66.6,27.4C65.4,24.7 63.8,21.7 62.0,19.6C60.2,17.5 57.9,15.6 55.8,14.8C53.7,14.0 51.9,13.8 49.2,14.6Z" fill="#040404"/>
<path d="M81.6,21.0C82.3,19.9 85.2,18.6 87.6,18.4C90.0,18.2 93.4,18.2 96.2,19.6C99.0,21.0 102.2,23.6 104.4,26.6C106.6,29.6 108.5,34.0 109.6,37.6C110.7,41.2 111.3,45.1 110.8,48.4C110.3,51.7 108.6,55.2 106.6,57.4C104.6,59.6 101.4,61.1 98.6,61.6C95.8,62.1 92.4,61.6 89.8,60.2C87.2,58.8 84.9,55.5 83.0,53.0C81.1,50.5 79.4,47.5 78.2,45.4C77.0,43.3 75.2,41.8 75.6,40.4C76.0,39.0 79.3,38.6 80.6,37.0C81.9,35.4 83.2,32.6 83.6,30.6C84.0,28.6 83.5,26.6 83.2,25.0C82.9,23.4 80.9,22.1 81.6,21.0Z" fill="#040404"/>
<path d="M63,15 C68,13 78,13 83,16 C85,24 84,34 81,42 C78,46 71,46 67.5,42.5 C68,34 66,24 63,15Z" fill="#7c7c7c"/>
<path d="M61.5,14.2 C67,10.6 78,10.6 83.5,14.2" fill="none" stroke="#efefef" stroke-width="3.4" stroke-linecap="round"/>
<path d="M63,13.6 C68,11 77,11 82,13.6" fill="none" stroke="#9a9a9a" stroke-width="0.9"/>
<ellipse cx="78.4" cy="32" rx="4.7" ry="10.5" fill="#f6f6f6"/>
<ellipse cx="74" cy="21.2" rx="5.6" ry="3.4" fill="#f6f6f6"/>
<ellipse cx="80.5" cy="24" rx="3.4" ry="3.2" fill="#f2f2f2"/>
<ellipse cx="77.6" cy="43.4" rx="3.2" ry="3.6" fill="#ececec"/>
<ellipse cx="70.9" cy="36.4" rx="2.7" ry="2.5" fill="#020202"/>
<path d="M70.8,40.4 C75.6,41.6 77.8,46 76.6,50.2 C74,53.2 67.6,53.2 65,50.2 C63.8,46 66,41.6 70.8,40.4Z" fill="#f1f1f1"/>
<ellipse cx="70.8" cy="47.4" rx="3.3" ry="2.7" fill="#a9a9a9"/>
<path d="M63.4,54.4 C66,52.6 68.6,53.4 70.8,55 C73,53.4 75.6,52.6 78.2,54.4 L75.2,59.6 L72,62.4 L70.8,66.6 L69.6,62.4 L66.4,59.6Z" fill="#ececec"/>
<ellipse cx="70.8" cy="57.4" rx="2.5" ry="2.1" fill="#5c5c5c"/>
<path d="M62.6,55.6 L58.4,58.4 M79,55.6 L83.2,58.4" stroke="#e4e4e4" stroke-width="1.7" stroke-linecap="round" fill="none"/>
<path d="M22.4,57.6 L46.6,70.8" stroke="#f3f3f3" stroke-width="2.7" stroke-linecap="round" fill="none"/>
<path d="M25,59 L44.6,69.7" stroke="#8f8f8f" stroke-width="0.8" stroke-linecap="round" fill="none"/>
<path d="M120.4,53.2 L95,71.6" stroke="#f3f3f3" stroke-width="2.7" stroke-linecap="round" fill="none"/>
<path d="M118,55 L97,70.2" stroke="#8f8f8f" stroke-width="0.8" stroke-linecap="round" fill="none"/>
<ellipse cx="22.6" cy="57.6" rx="3.2" ry="2.3" transform="rotate(25 22.6 57.6)" fill="#f3f3f3"/>
<ellipse cx="22.6" cy="57.6" rx="1.66" ry="0.97" transform="rotate(25 22.6 57.6)" fill="#7a7a7a"/>
<ellipse cx="120.2" cy="53" rx="3.2" ry="2.3" transform="rotate(-30 120.2 53)" fill="#f3f3f3"/>
<ellipse cx="120.2" cy="53" rx="1.66" ry="0.97" transform="rotate(-30 120.2 53)" fill="#7a7a7a"/>
<ellipse cx="44.2" cy="62.2" rx="4.1" ry="2.3" transform="rotate(18 44.2 62.2)" fill="#f3f3f3"/>
<ellipse cx="44.2" cy="62.2" rx="2.13" ry="0.97" transform="rotate(18 44.2 62.2)" fill="#7a7a7a"/>
<ellipse cx="92.6" cy="63.8" rx="4.1" ry="2.3" transform="rotate(-10 92.6 63.8)" fill="#f3f3f3"/>
<ellipse cx="92.6" cy="63.8" rx="2.13" ry="0.97" transform="rotate(-10 92.6 63.8)" fill="#7a7a7a"/>
<ellipse cx="47.6" cy="72.2" rx="4.2" ry="2.0" transform="rotate(-8 47.6 72.2)" fill="#f3f3f3"/>
<ellipse cx="47.6" cy="72.2" rx="2.18" ry="0.84" transform="rotate(-8 47.6 72.2)" fill="#7a7a7a"/>
<ellipse cx="96" cy="72.4" rx="4.2" ry="2.0" transform="rotate(8 96 72.4)" fill="#f3f3f3"/>
<ellipse cx="96" cy="72.4" rx="2.18" ry="0.84" transform="rotate(8 96 72.4)" fill="#7a7a7a"/>
</g>
<g fill="#cfcfcf">
<circle cx="55" cy="38" r="0.5"/>
<circle cx="52" cy="46" r="0.5"/>
<circle cx="58.5" cy="48" r="0.45"/>
<circle cx="47" cy="40" r="0.4"/>
<circle cx="61" cy="33" r="0.4"/>
<circle cx="88" cy="35" r="0.5"/>
<circle cx="90.5" cy="46" r="0.55"/>
<circle cx="86.5" cy="29" r="0.45"/>
<circle cx="92" cy="52" r="0.45"/>
<circle cx="96" cy="40" r="0.4"/>
<circle cx="89" cy="41" r="0.4"/>
</g>
</g>
</defs>
<rect x="307.80" y="330.70" width="560.00" height="83.10" fill="#0a0a0a"/>
<use href="#ct" transform="translate(307.80,330.7) scale(0.9993,1.0)"/>
<ellipse cx="375.6" cy="357.7" rx="5.54" ry="5.54" transform="rotate(0 375.6 357.7)" fill="#8f9090" filter="url(#ctblur)"/>
<ellipse cx="375.6" cy="357.7" rx="6.3" ry="6.3" transform="rotate(0 375.6 357.7)" fill="none" stroke="#d8202a" stroke-width="1.0"/>
<rect x="309.50" y="331.90" width="48.30" height="17.30" fill="#ffffff"/>
<text x="313.10" y="343.99" font-size="10.6" text-anchor="start" fill="#222">Baseline</text>
<use href="#ct" transform="translate(446.20,330.7) scale(1.0122,1.0)"/>
<ellipse cx="515.4" cy="357.8" rx="2.11" ry="3.34" transform="rotate(-30 515.4 357.8)" fill="#8f9090" filter="url(#ctblur)"/>
<ellipse cx="515.4" cy="357.8" rx="2.4" ry="3.8" transform="rotate(-30 515.4 357.8)" fill="none" stroke="#d8202a" stroke-width="1.0"/>
<rect x="447.90" y="331.90" width="48.80" height="17.30" fill="#ffffff"/>
<text x="451.50" y="343.99" font-size="10.6" text-anchor="start" fill="#222">2 cycles</text>
<use href="#ct" transform="translate(587.40,330.7) scale(1.0050,1.0)"/>
<ellipse cx="654.6" cy="357.6" rx="2.02" ry="3.43" transform="rotate(-30 654.6 357.6)" fill="#8f9090" filter="url(#ctblur)"/>
<ellipse cx="654.6" cy="357.6" rx="2.3" ry="3.9" transform="rotate(-30 654.6 357.6)" fill="none" stroke="#d8202a" stroke-width="1.0"/>
<rect x="588.70" y="331.90" width="48.40" height="17.30" fill="#ffffff"/>
<text x="592.30" y="343.99" font-size="10.6" text-anchor="start" fill="#222">3 cycles</text>
<use href="#ct" transform="translate(727.60,330.7) scale(1.0050,1.0)"/>
<ellipse cx="795.0" cy="358.8" rx="2.02" ry="3.43" transform="rotate(-30 795.0 358.8)" fill="#8f9090" filter="url(#ctblur)"/>
<ellipse cx="795.0" cy="358.8" rx="2.3" ry="3.9" transform="rotate(-30 795.0 358.8)" fill="none" stroke="#d8202a" stroke-width="1.0"/>
<rect x="729.30" y="331.90" width="48.30" height="17.30" fill="#ffffff"/>
<text x="732.90" y="343.99" font-size="10.6" text-anchor="start" fill="#222">5 cycles</text>
<path d="M307.8,411.1 C314,412.3 318,413.1 322,413.6" fill="none" stroke="#e8e8e8" stroke-width="1.0" stroke-linejoin="miter"/>
<path d="M536.5,413.8 C552,411.6 570,408.6 587.4,404.2" fill="none" stroke="#e8e8e8" stroke-width="1.0" stroke-linejoin="miter"/>
<path d="M683.4,405.4 C698,403.4 712,401 727.6,398.2" fill="none" stroke="#e8e8e8" stroke-width="1.0" stroke-linejoin="miter"/>
<path d="M823.6,411 C838,409 852,406.5 867.8,403.2" fill="none" stroke="#e8e8e8" stroke-width="1.0" stroke-linejoin="miter"/>
<path d="M721.6,340.5V386.5M719.4,340.5H721.6M720.2,352H721.6M719.4,363.5H721.6M720.2,375H721.6M719.4,386.5H721.6" fill="none" stroke="#9a9458" stroke-width="0.6" stroke-linejoin="miter"/>
<path d="M723.2,352.5V356.5H725.4" fill="none" stroke="#d6cf4a" stroke-width="0.8" stroke-linejoin="miter"/>
<path d="M862.0,340.5V386.5M859.8,340.5H862.0M860.6,352H862.0M859.8,363.5H862.0M860.6,375H862.0M859.8,386.5H862.0" fill="none" stroke="#9a9458" stroke-width="0.6" stroke-linejoin="miter"/>
<path d="M863.6,352.5V356.5H865.8" fill="none" stroke="#d6cf4a" stroke-width="0.8" stroke-linejoin="miter"/>
<rect x="436.50" y="407.50" width="10.70" height="6.30" fill="#2b2b2b"/>
<rect x="437.20" y="333.50" width="10.00" height="23.00" fill="#1d1d1d"/>
<rect x="440.00" y="402.00" width="7.00" height="11.80" fill="#2b2b2b"/>
</g>
<g id="panel-f">
<text x="2.50" y="480.90" font-size="17.4" text-anchor="start" fill="#111" font-weight="bold">f</text>
<text x="173.30" y="483.43" font-size="10.7" text-anchor="middle" fill="#222" font-weight="bold">PARP inhibitor</text>
<path d="M72.80,502.80H138.82V526.08H207.15V549.36H270.86V619.20" fill="none" stroke="#a93f34" stroke-width="1.35" stroke-linejoin="miter"/>
<path d="M212.91,547.26V551.46M215.80,547.26V551.46" fill="none" stroke="#a93f34" stroke-width="1.0" stroke-linejoin="miter"/>
<path d="M72.80,502.80H124.98V541.56H135.65V580.44H141.42V619.20" fill="none" stroke="#2c6a9b" stroke-width="1.35" stroke-linejoin="miter"/>
<path d="M72.80,502.80H124.98" fill="none" stroke="#a93f34" stroke-width="1.35" stroke-linejoin="miter"/>
<line x1="62.10" y1="496.20" x2="62.10" y2="626.20" stroke="#3c3c3c" stroke-width="1"/>
<line x1="61.60" y1="625.70" x2="285.00" y2="625.70" stroke="#3c3c3c" stroke-width="1"/>
<line x1="59.90" y1="619.20" x2="62.10" y2="619.20" stroke="#3c3c3c" stroke-width="0.9"/>
<text x="58.30" y="623.05" font-size="10.2" text-anchor="end" fill="#3d3d3d">0</text>
<line x1="59.90" y1="590.10" x2="62.10" y2="590.10" stroke="#3c3c3c" stroke-width="0.9"/>
<text x="58.30" y="593.95" font-size="10.2" text-anchor="end" fill="#3d3d3d">25</text>
<line x1="59.90" y1="561.00" x2="62.10" y2="561.00" stroke="#3c3c3c" stroke-width="0.9"/>
<text x="58.30" y="564.85" font-size="10.2" text-anchor="end" fill="#3d3d3d">50</text>
<line x1="59.90" y1="531.90" x2="62.10" y2="531.90" stroke="#3c3c3c" stroke-width="0.9"/>
<text x="58.30" y="535.75" font-size="10.2" text-anchor="end" fill="#3d3d3d">75</text>
<line x1="59.90" y1="502.80" x2="62.10" y2="502.80" stroke="#3c3c3c" stroke-width="0.9"/>
<text x="58.30" y="506.65" font-size="10.2" text-anchor="end" fill="#3d3d3d">100</text>
<line x1="72.80" y1="625.70" x2="72.80" y2="628.10" stroke="#3c3c3c" stroke-width="0.9"/>
<text x="72.80" y="638.25" font-size="10.2" text-anchor="middle" fill="#3d3d3d">0</text>
<line x1="72.80" y1="699.20" x2="72.80" y2="701.60" stroke="#3c3c3c" stroke-width="0.9"/>
<text x="72.80" y="711.35" font-size="10.2" text-anchor="middle" fill="#3d3d3d">0</text>
<line x1="130.46" y1="625.70" x2="130.46" y2="628.10" stroke="#3c3c3c" stroke-width="0.9"/>
<text x="130.46" y="638.25" font-size="10.2" text-anchor="middle" fill="#3d3d3d">2</text>
<line x1="130.46" y1="699.20" x2="130.46" y2="701.60" stroke="#3c3c3c" stroke-width="0.9"/>
<text x="130.46" y="711.35" font-size="10.2" text-anchor="middle" fill="#3d3d3d">2</text>
<line x1="188.12" y1="625.70" x2="188.12" y2="628.10" stroke="#3c3c3c" stroke-width="0.9"/>
<text x="188.12" y="638.25" font-size="10.2" text-anchor="middle" fill="#3d3d3d">4</text>
<line x1="188.12" y1="699.20" x2="188.12" y2="701.60" stroke="#3c3c3c" stroke-width="0.9"/>
<text x="188.12" y="711.35" font-size="10.2" text-anchor="middle" fill="#3d3d3d">4</text>
<line x1="245.78" y1="625.70" x2="245.78" y2="628.10" stroke="#3c3c3c" stroke-width="0.9"/>
<text x="245.78" y="638.25" font-size="10.2" text-anchor="middle" fill="#3d3d3d">6</text>
<line x1="245.78" y1="699.20" x2="245.78" y2="701.60" stroke="#3c3c3c" stroke-width="0.9"/>
<text x="245.78" y="711.35" font-size="10.2" text-anchor="middle" fill="#3d3d3d">6</text>
<text x="174.30" y="650.67" font-size="12.2" text-anchor="middle" fill="#333333">Progresion Free Survival (Months)</text>
<text transform="translate(34.50,557.50) rotate(-90)" x="0" y="4.37" font-size="12.2" text-anchor="middle" fill="#333333">Survival probability (%)</text>
<text x="70.00" y="614.93" font-size="12.1" text-anchor="start" fill="#333333">Log-rank <tspan font-style="italic">P</tspan> = 0.02</text>
<text x="260.60" y="496.63" font-size="10.7" text-anchor="middle" fill="#222" font-weight="bold">mPFS(mo)</text>
<line x1="165.70" y1="504.20" x2="176.00" y2="504.20" stroke="#a93f34" stroke-width="1.1"/>
<line x1="170.80" y1="502.00" x2="170.80" y2="506.40" stroke="#a93f34" stroke-width="0.9"/>
<text x="181.20" y="507.79" font-size="10.6" text-anchor="start" fill="#333333">Two-hit</text>
<text x="245.80" y="507.79" font-size="10.6" text-anchor="start" fill="#333333">4.9</text>
<line x1="165.70" y1="515.20" x2="176.00" y2="515.20" stroke="#2c6a9b" stroke-width="1.1"/>
<line x1="170.80" y1="513.00" x2="170.80" y2="517.40" stroke="#2c6a9b" stroke-width="0.9"/>
<text x="181.20" y="518.79" font-size="10.6" text-anchor="start" fill="#333333">No two-hit</text>
<text x="245.80" y="518.79" font-size="10.6" text-anchor="start" fill="#333333">2.2</text>
<text x="62.10" y="665.09" font-size="10.6" text-anchor="start" fill="#333333">No. at risk</text>
<line x1="62.10" y1="674.00" x2="62.10" y2="699.70" stroke="#3c3c3c" stroke-width="1"/>
<line x1="61.60" y1="699.20" x2="285.00" y2="699.20" stroke="#3c3c3c" stroke-width="1"/>
<text x="58.00" y="683.09" font-size="10.6" text-anchor="end" fill="#a93f34">Two-hit</text>
<line x1="59.90" y1="679.30" x2="62.10" y2="679.30" stroke="#3c3c3c" stroke-width="0.9"/>
<text x="72.80" y="682.95" font-size="10.2" text-anchor="middle" fill="#333">5</text>
<text x="130.46" y="682.95" font-size="10.2" text-anchor="middle" fill="#333">5</text>
<text x="188.12" y="682.95" font-size="10.2" text-anchor="middle" fill="#333">4</text>
<text x="245.78" y="682.95" font-size="10.2" text-anchor="middle" fill="#333">1</text>
<text x="58.00" y="693.89" font-size="10.6" text-anchor="end" fill="#2c6a9b">No two-hit</text>
<line x1="59.90" y1="690.10" x2="62.10" y2="690.10" stroke="#3c3c3c" stroke-width="0.9"/>
<text x="72.80" y="693.75" font-size="10.2" text-anchor="middle" fill="#333">3</text>
<text x="130.46" y="693.75" font-size="10.2" text-anchor="middle" fill="#333">2</text>
<text x="188.12" y="693.75" font-size="10.2" text-anchor="middle" fill="#333">0</text>
<text x="245.78" y="693.75" font-size="10.2" text-anchor="middle" fill="#333">0</text>
</g>
<g id="panel-g">
<text x="327.80" y="481.00" font-size="17.4" text-anchor="start" fill="#111" font-weight="bold">g</text>
<text x="444.30" y="467.03" font-size="10.7" text-anchor="middle" fill="#222" font-weight="bold">Immunotherapy</text>
<path d="M407.3,488.7H440.2" fill="none" stroke="#3c3c3c" stroke-width="0.9" stroke-linejoin="miter"/>
<path d="M424.00,488.70V483.50H473.30V487.70" fill="none" stroke="#3c3c3c" stroke-width="0.9" stroke-linejoin="miter"/>
<text x="450.50" y="485.05" font-size="13" text-anchor="middle" fill="#333">*</text>
<path d="M407.30,503.80V500.30H473.30V503.80" fill="none" stroke="#3c3c3c" stroke-width="0.9" stroke-linejoin="miter"/>
<text x="442.40" y="501.85" font-size="13" text-anchor="middle" fill="#333">*</text>
<path d="M440.20,517.20V513.50H473.30V517.20" fill="none" stroke="#3c3c3c" stroke-width="0.9" stroke-linejoin="miter"/>
<text x="458.60" y="512.08" font-size="12.5" text-anchor="middle" fill="#333">ns</text>
<rect x="396.30" y="517.30" width="26.00" height="146.60" fill="#2c6a9b"/>
<rect x="428.20" y="517.30" width="25.80" height="73.89" fill="#bfc0c2"/>
<rect x="428.20" y="591.19" width="25.80" height="72.71" fill="#2c6a9b"/>
<rect x="460.10" y="517.30" width="25.80" height="76.82" fill="#bfc0c2"/>
<rect x="460.10" y="594.12" width="25.80" height="69.78" fill="#2c6a9b"/>
<text x="409.40" y="528.99" font-size="10.6" text-anchor="middle" fill="#ffffff">100%</text>
<text x="441.60" y="603.99" font-size="10.6" text-anchor="middle" fill="#ffffff">50%</text>
<text x="473.00" y="606.89" font-size="10.6" text-anchor="middle" fill="#ffffff">48%</text>
<line x1="387.60" y1="509.30" x2="387.60" y2="671.80" stroke="#3c3c3c" stroke-width="1"/>
<line x1="387.10" y1="671.30" x2="493.40" y2="671.30" stroke="#3c3c3c" stroke-width="1"/>
<line x1="385.40" y1="517.30" x2="387.60" y2="517.30" stroke="#3c3c3c" stroke-width="0.9"/>
<text x="383.60" y="520.65" font-size="10.2" text-anchor="end" fill="#3d3d3d">100</text>
<line x1="385.40" y1="554.00" x2="387.60" y2="554.00" stroke="#3c3c3c" stroke-width="0.9"/>
<text x="383.60" y="557.35" font-size="10.2" text-anchor="end" fill="#3d3d3d">75</text>
<line x1="385.40" y1="590.60" x2="387.60" y2="590.60" stroke="#3c3c3c" stroke-width="0.9"/>
<text x="383.60" y="593.95" font-size="10.2" text-anchor="end" fill="#3d3d3d">50</text>
<line x1="385.40" y1="627.30" x2="387.60" y2="627.30" stroke="#3c3c3c" stroke-width="0.9"/>
<text x="383.60" y="630.65" font-size="10.2" text-anchor="end" fill="#3d3d3d">25</text>
<line x1="385.40" y1="663.90" x2="387.60" y2="663.90" stroke="#3c3c3c" stroke-width="0.9"/>
<text x="383.60" y="667.25" font-size="10.2" text-anchor="end" fill="#3d3d3d">0</text>
<line x1="409.30" y1="671.30" x2="409.30" y2="673.90" stroke="#3c3c3c" stroke-width="0.9"/>
<line x1="441.10" y1="671.30" x2="441.10" y2="673.90" stroke="#3c3c3c" stroke-width="0.9"/>
<line x1="473.00" y1="671.30" x2="473.00" y2="673.90" stroke="#3c3c3c" stroke-width="0.9"/>
<text transform="translate(361.30,589.50) rotate(-90)" x="0" y="4.37" font-size="12.2" text-anchor="middle" fill="#333333">ORR (%)</text>
<text x="320.30" y="687.79" font-size="10.6" text-anchor="start" fill="#222" font-style="italic">BRCA1/PALB2</text>
<g transform="translate(408.50,680.1) rotate(-45)"><text x="0" y="4.5" font-size="10.4" text-anchor="end" fill="#3d3d3d">Two-hit</text><text x="0.3" y="13.6" font-size="10.4" text-anchor="end" fill="#3d3d3d">(n = 7)</text></g>
<g transform="translate(440.30,680.1) rotate(-45)"><text x="0" y="4.5" font-size="10.4" text-anchor="end" fill="#3d3d3d">No two-hit</text><text x="0.3" y="13.6" font-size="10.4" text-anchor="end" fill="#3d3d3d">(n = 2)</text></g>
<g transform="translate(472.20,680.1) rotate(-45)"><text x="0" y="4.5" font-size="10.4" text-anchor="end" fill="#3d3d3d">Wild type</text><text x="0.3" y="13.6" font-size="10.4" text-anchor="end" fill="#3d3d3d">(n = 56)</text></g>
<text x="498.80" y="522.79" font-size="10.6" text-anchor="start" fill="#222" font-weight="bold">Response</text>
<rect x="498.80" y="527.60" width="10.00" height="10.00" fill="#2c6a9b"/>
<text x="512.70" y="536.19" font-size="10.6" text-anchor="start" fill="#333">CR+PR</text>
<rect x="498.80" y="539.90" width="10.00" height="10.00" fill="#bfc0c2"/>
<text x="512.70" y="548.29" font-size="10.6" text-anchor="start" fill="#333">SD+PD</text>
</g>
<g id="panel-h">
<text x="575.40" y="481.30" font-size="17.4" text-anchor="start" fill="#111" font-weight="bold">h</text>
<text x="724.20" y="483.43" font-size="10.7" text-anchor="middle" fill="#222" font-weight="bold">Immunotherapy</text>
<path d="M630.74,499.11H640.68V499.11H641.65V501.46H642.62V503.81H644.00V505.88H645.38V507.95H646.76V510.02H648.14V512.09H649.24V514.86H650.35V517.62H651.32V521.07H652.28V524.52H653.66V526.59H655.04V528.66H656.43V530.73H657.81V532.81H659.19V534.19H660.57V535.57H661.95V538.33H663.33V541.09H664.71V543.85H666.09V546.61H669.54V547.30H673.00V548.00H674.38V550.07H675.76V552.14H677.83V554.90H679.90V557.66H683.35V558.63H686.80V559.59H688.87V560.70H690.95V561.80H693.02V563.87H695.09V565.95H696.47V568.02H697.85V570.09H708.90V570.64H710.28V572.44H711.66V574.23H719.94V575.06H720.63V576.44H721.32V577.82H728.23V578.37H728.92V579.48H729.61V580.58H735.13V581.14H736.51V582.52H737.89V583.90H739.28V585.00H740.66V586.11H766.89V586.11H768.27V589.42H769.65V592.73H782.08V592.73H782.91V605.99" fill="none" stroke="#cf843f" stroke-width="1.35" stroke-linejoin="miter"/>
<path d="M782.91,605.99H795.89" fill="none" stroke="#cf843f" stroke-width="1.35" stroke-linejoin="miter"/>
<path d="M650.90,522.42V526.62M679.90,555.56V559.76M696.47,565.23V569.43M719.39,572.96V577.16M737.34,581.24V585.44M744.80,584.01V588.21M758.05,584.01V588.21M761.37,584.01V588.21M763.03,584.01V588.21M771.86,590.63V594.83M781.53,590.63V594.83M795.34,603.89V608.09" fill="none" stroke="#cf843f" stroke-width="1.0" stroke-linejoin="miter"/>
<path d="M630.74,499.11H640.68V559.04H696.75V619.25" fill="none" stroke="#2c6a9b" stroke-width="1.35" stroke-linejoin="miter"/>
<path d="M630.74,499.11H678.52V516.24H680.18V533.36H722.71V554.90H726.02V576.44H807.49V597.71" fill="none" stroke="#a93f34" stroke-width="1.35" stroke-linejoin="miter"/>
<path d="M807.49,597.71H824.89" fill="none" stroke="#a93f34" stroke-width="1.35" stroke-linejoin="miter"/>
<path d="M699.23,531.26V535.46M824.06,595.61V599.81" fill="none" stroke="#a93f34" stroke-width="1.0" stroke-linejoin="miter"/>
<line x1="620.90" y1="494.40" x2="620.90" y2="627.40" stroke="#3c3c3c" stroke-width="1"/>
<line x1="620.40" y1="626.90" x2="842.00" y2="626.90" stroke="#3c3c3c" stroke-width="1"/>
<line x1="618.70" y1="618.80" x2="620.90" y2="618.80" stroke="#3c3c3c" stroke-width="0.9"/>
<text x="617.20" y="622.45" font-size="10.2" text-anchor="end" fill="#3d3d3d">0</text>
<line x1="618.70" y1="589.15" x2="620.90" y2="589.15" stroke="#3c3c3c" stroke-width="0.9"/>
<text x="617.20" y="592.80" font-size="10.2" text-anchor="end" fill="#3d3d3d">25</text>
<line x1="618.70" y1="559.50" x2="620.90" y2="559.50" stroke="#3c3c3c" stroke-width="0.9"/>
<text x="617.20" y="563.15" font-size="10.2" text-anchor="end" fill="#3d3d3d">50</text>
<line x1="618.70" y1="529.85" x2="620.90" y2="529.85" stroke="#3c3c3c" stroke-width="0.9"/>
<text x="617.20" y="533.50" font-size="10.2" text-anchor="end" fill="#3d3d3d">75</text>
<line x1="618.70" y1="500.20" x2="620.90" y2="500.20" stroke="#3c3c3c" stroke-width="0.9"/>
<text x="617.20" y="503.85" font-size="10.2" text-anchor="end" fill="#3d3d3d">100</text>
<line x1="630.80" y1="626.90" x2="630.80" y2="629.30" stroke="#3c3c3c" stroke-width="0.9"/>
<text x="630.80" y="639.25" font-size="10.2" text-anchor="middle" fill="#3d3d3d">0</text>
<line x1="630.80" y1="699.20" x2="630.80" y2="701.60" stroke="#3c3c3c" stroke-width="0.9"/>
<text x="630.80" y="711.05" font-size="10.2" text-anchor="middle" fill="#3d3d3d">0</text>
<line x1="671.10" y1="626.90" x2="671.10" y2="629.30" stroke="#3c3c3c" stroke-width="0.9"/>
<text x="671.10" y="639.25" font-size="10.2" text-anchor="middle" fill="#3d3d3d">5</text>
<line x1="671.10" y1="699.20" x2="671.10" y2="701.60" stroke="#3c3c3c" stroke-width="0.9"/>
<text x="671.10" y="711.05" font-size="10.2" text-anchor="middle" fill="#3d3d3d">5</text>
<line x1="711.40" y1="626.90" x2="711.40" y2="629.30" stroke="#3c3c3c" stroke-width="0.9"/>
<text x="711.40" y="639.25" font-size="10.2" text-anchor="middle" fill="#3d3d3d">10</text>
<line x1="711.40" y1="699.20" x2="711.40" y2="701.60" stroke="#3c3c3c" stroke-width="0.9"/>
<text x="711.40" y="711.05" font-size="10.2" text-anchor="middle" fill="#3d3d3d">10</text>
<line x1="751.70" y1="626.90" x2="751.70" y2="629.30" stroke="#3c3c3c" stroke-width="0.9"/>
<text x="751.70" y="639.25" font-size="10.2" text-anchor="middle" fill="#3d3d3d">15</text>
<line x1="751.70" y1="699.20" x2="751.70" y2="701.60" stroke="#3c3c3c" stroke-width="0.9"/>
<text x="751.70" y="711.05" font-size="10.2" text-anchor="middle" fill="#3d3d3d">15</text>
<line x1="792.00" y1="626.90" x2="792.00" y2="629.30" stroke="#3c3c3c" stroke-width="0.9"/>
<text x="792.00" y="639.25" font-size="10.2" text-anchor="middle" fill="#3d3d3d">20</text>
<line x1="792.00" y1="699.20" x2="792.00" y2="701.60" stroke="#3c3c3c" stroke-width="0.9"/>
<text x="792.00" y="711.05" font-size="10.2" text-anchor="middle" fill="#3d3d3d">20</text>
<line x1="832.30" y1="626.90" x2="832.30" y2="629.30" stroke="#3c3c3c" stroke-width="0.9"/>
<text x="832.30" y="639.25" font-size="10.2" text-anchor="middle" fill="#3d3d3d">25</text>
<line x1="832.30" y1="699.20" x2="832.30" y2="701.60" stroke="#3c3c3c" stroke-width="0.9"/>
<text x="832.30" y="711.05" font-size="10.2" text-anchor="middle" fill="#3d3d3d">25</text>
<text x="732.80" y="651.17" font-size="12.2" text-anchor="middle" fill="#333333">Progresion Free Survival (Months)</text>
<text transform="translate(593.60,560.00) rotate(-90)" x="0" y="4.37" font-size="12.2" text-anchor="middle" fill="#333333">Survival probability (%)</text>
<text x="626.60" y="614.83" font-size="12.1" text-anchor="start" fill="#333333">Log-rank <tspan font-style="italic">P</tspan> = 0.19</text>
<text x="816.70" y="494.83" font-size="10.7" text-anchor="middle" fill="#222" font-weight="bold">mPFS(mo)</text>
<line x1="729.40" y1="503.90" x2="739.60" y2="503.90" stroke="#a93f34" stroke-width="1.2"/>
<line x1="734.50" y1="501.60" x2="734.50" y2="506.20" stroke="#a93f34" stroke-width="1.0"/>
<text x="744.80" y="506.99" font-size="10.6" text-anchor="start" fill="#333333">Two-hit</text>
<text x="805.60" y="506.99" font-size="10.6" text-anchor="start" fill="#333333">11.3</text>
<line x1="729.40" y1="514.80" x2="739.60" y2="514.80" stroke="#2c6a9b" stroke-width="1.2"/>
<line x1="734.50" y1="512.50" x2="734.50" y2="517.10" stroke="#2c6a9b" stroke-width="1.0"/>
<text x="744.80" y="517.79" font-size="10.6" text-anchor="start" fill="#333333">No two-hit</text>
<text x="805.60" y="517.79" font-size="10.6" text-anchor="start" fill="#333333">4.7</text>
<line x1="729.40" y1="525.60" x2="739.60" y2="525.60" stroke="#cf843f" stroke-width="1.2"/>
<line x1="734.50" y1="523.30" x2="734.50" y2="527.90" stroke="#cf843f" stroke-width="1.0"/>
<text x="744.80" y="528.59" font-size="10.6" text-anchor="start" fill="#333333">Wild type</text>
<text x="805.60" y="528.59" font-size="10.6" text-anchor="start" fill="#333333">5.9</text>
<text x="620.90" y="665.49" font-size="10.6" text-anchor="start" fill="#333333">No. at risk</text>
<line x1="620.90" y1="670.60" x2="620.90" y2="699.70" stroke="#3c3c3c" stroke-width="1"/>
<line x1="620.40" y1="699.20" x2="842.00" y2="699.20" stroke="#3c3c3c" stroke-width="1"/>
<text x="616.50" y="678.09" font-size="10.6" text-anchor="end" fill="#a93f34">Two-hit</text>
<line x1="618.70" y1="674.30" x2="620.90" y2="674.30" stroke="#3c3c3c" stroke-width="0.9"/>
<text x="630.80" y="677.45" font-size="8.8" text-anchor="middle" fill="#333">7</text>
<text x="671.10" y="677.45" font-size="8.8" text-anchor="middle" fill="#333">7</text>
<text x="711.40" y="677.45" font-size="8.8" text-anchor="middle" fill="#333">4</text>
<text x="751.70" y="677.45" font-size="8.8" text-anchor="middle" fill="#333">2</text>
<text x="792.00" y="677.45" font-size="8.8" text-anchor="middle" fill="#333">2</text>
<text x="832.30" y="677.45" font-size="8.8" text-anchor="middle" fill="#333">0</text>
<text x="616.50" y="688.09" font-size="10.6" text-anchor="end" fill="#2c6a9b">No two-hit</text>
<line x1="618.70" y1="684.30" x2="620.90" y2="684.30" stroke="#3c3c3c" stroke-width="0.9"/>
<text x="630.80" y="687.45" font-size="8.8" text-anchor="middle" fill="#333">2</text>
<text x="671.10" y="687.45" font-size="8.8" text-anchor="middle" fill="#333">1</text>
<text x="711.40" y="687.45" font-size="8.8" text-anchor="middle" fill="#333">0</text>
<text x="751.70" y="687.45" font-size="8.8" text-anchor="middle" fill="#333">0</text>
<text x="792.00" y="687.45" font-size="8.8" text-anchor="middle" fill="#333">0</text>
<text x="832.30" y="687.45" font-size="8.8" text-anchor="middle" fill="#333">0</text>
<text x="616.50" y="697.99" font-size="10.6" text-anchor="end" fill="#cf843f">Wild type</text>
<line x1="618.70" y1="694.20" x2="620.90" y2="694.20" stroke="#3c3c3c" stroke-width="0.9"/>
<text x="630.80" y="697.35" font-size="8.8" text-anchor="middle" fill="#333">56</text>
<text x="671.10" y="697.35" font-size="8.8" text-anchor="middle" fill="#333">32</text>
<text x="711.40" y="697.35" font-size="8.8" text-anchor="middle" fill="#333">19</text>
<text x="751.70" y="697.35" font-size="8.8" text-anchor="middle" fill="#333">9</text>
<text x="792.00" y="697.35" font-size="8.8" text-anchor="middle" fill="#333">1</text>
<text x="832.30" y="697.35" font-size="8.8" text-anchor="middle" fill="#333">0</text>
</g>
<defs><linearGradient id="cb" x1="0" y1="0" x2="0" y2="1"><stop offset="0" stop-color="#b0413a"/><stop offset="0.25" stop-color="#d89a92"/><stop offset="0.5" stop-color="#ffffff"/><stop offset="0.75" stop-color="#8fbbd8"/><stop offset="1" stop-color="#2472a9"/></linearGradient></defs>
<g id="panel-i">
<text x="1.70" y="737.30" font-size="17.4" text-anchor="start" fill="#111" font-weight="bold">i</text>
<text x="195.30" y="740.83" font-size="10.7" text-anchor="middle" fill="#222" font-weight="bold">FUSCCTNBC DNA</text>
<text x="330.90" y="741.03" font-size="10.7" text-anchor="middle" fill="#222" font-weight="bold">RNA</text>
<line x1="100.30" y1="744.30" x2="291.20" y2="744.30" stroke="#333" stroke-width="0.9"/>
<line x1="294.50" y1="744.30" x2="369.30" y2="744.30" stroke="#333" stroke-width="0.9"/>
<rect x="61.50" y="750.40" width="35.60" height="36.10" fill="#3a85b8"/>
<rect x="100.35" y="750.40" width="35.60" height="36.10" fill="#bf5a50"/>
<rect x="139.20" y="750.40" width="35.60" height="36.10" fill="#b0413a"/>
<rect x="178.05" y="750.40" width="35.60" height="36.10" fill="#b44840"/>
<rect x="216.90" y="750.40" width="35.60" height="36.10" fill="#cc7d74"/>
<rect x="255.75" y="750.40" width="35.60" height="36.10" fill="#bc574e"/>
<rect x="294.60" y="750.40" width="35.60" height="36.10" fill="#b0413a"/>
<rect x="333.45" y="750.40" width="35.60" height="36.10" fill="#c4665d"/>
<rect x="61.50" y="790.10" width="35.60" height="36.10" fill="#d4e4ef"/>
<text x="79.30" y="811.25" font-size="10.8" text-anchor="middle" fill="#222">ns</text>
<rect x="100.35" y="790.10" width="35.60" height="36.10" fill="#2472a9"/>
<text x="118.15" y="814.55" font-size="12" text-anchor="middle" fill="#111" stroke="#111" stroke-width="0.35">***</text>
<rect x="139.20" y="790.10" width="35.60" height="36.10" fill="#6ba5cb"/>
<text x="157.00" y="814.55" font-size="12" text-anchor="middle" fill="#111" stroke="#111" stroke-width="0.35">**</text>
<rect x="178.05" y="790.10" width="35.60" height="36.10" fill="#4a8fbe"/>
<text x="195.85" y="814.55" font-size="12" text-anchor="middle" fill="#111" stroke="#111" stroke-width="0.35">***</text>
<rect x="216.90" y="790.10" width="35.60" height="36.10" fill="#2472a9"/>
<text x="234.70" y="814.55" font-size="12" text-anchor="middle" fill="#111" stroke="#111" stroke-width="0.35">**</text>
<rect x="255.75" y="790.10" width="35.60" height="36.10" fill="#3580b4"/>
<text x="273.55" y="814.55" font-size="12" text-anchor="middle" fill="#111" stroke="#111" stroke-width="0.35">*</text>
<rect x="294.60" y="790.10" width="35.60" height="36.10" fill="#6ba5cb"/>
<text x="312.40" y="811.25" font-size="10.8" text-anchor="middle" fill="#222">ns</text>
<rect x="333.45" y="790.10" width="35.60" height="36.10" fill="#2472a9"/>
<text x="351.25" y="814.55" font-size="12" text-anchor="middle" fill="#111" stroke="#111" stroke-width="0.35">*</text>
<rect x="61.50" y="829.70" width="35.60" height="36.00" fill="#b44840"/>
<text x="79.30" y="854.10" font-size="12" text-anchor="middle" fill="#111" stroke="#111" stroke-width="0.35">*</text>
<rect x="100.35" y="829.70" width="35.60" height="36.00" fill="#f6e8e5"/>
<text x="118.15" y="854.10" font-size="12" text-anchor="middle" fill="#111" stroke="#111" stroke-width="0.35">**</text>
<rect x="139.20" y="829.70" width="35.60" height="36.00" fill="#6ba5cb"/>
<text x="157.00" y="854.10" font-size="12" text-anchor="middle" fill="#111" stroke="#111" stroke-width="0.35">***</text>
<rect x="178.05" y="829.70" width="35.60" height="36.00" fill="#c5dcea"/>
<text x="195.85" y="854.10" font-size="12" text-anchor="middle" fill="#111" stroke="#111" stroke-width="0.35">***</text>
<rect x="216.90" y="829.70" width="35.60" height="36.00" fill="#dca8a1"/>
<text x="234.70" y="850.80" font-size="10.8" text-anchor="middle" fill="#222">ns</text>
<rect x="255.75" y="829.70" width="35.60" height="36.00" fill="#fcf5f3"/>
<text x="273.55" y="854.10" font-size="12" text-anchor="middle" fill="#111" stroke="#111" stroke-width="0.35">*</text>
<rect x="294.60" y="829.70" width="35.60" height="36.00" fill="#6ba5cb"/>
<text x="312.40" y="854.10" font-size="12" text-anchor="middle" fill="#111" stroke="#111" stroke-width="0.35">*</text>
<rect x="333.45" y="829.70" width="35.60" height="36.00" fill="#f1d8d4"/>
<text x="351.25" y="850.80" font-size="10.8" text-anchor="middle" fill="#222">ns</text>
<text x="53.00" y="772.24" font-size="10.6" text-anchor="end" fill="#222">Two-hit</text>
<text x="53.00" y="811.94" font-size="10.6" text-anchor="end" fill="#222">No two-hit</text>
<text x="53.00" y="851.49" font-size="10.6" text-anchor="end" fill="#222">Wild type</text>
<text transform="translate(81.50,876.0) rotate(-32)" x="0" y="6.2" font-size="10.6" text-anchor="end" fill="#222">Age</text>
<text transform="translate(120.35,876.0) rotate(-32)" x="0" y="6.2" font-size="10.6" text-anchor="end" fill="#222">Mutation load</text>
<text transform="translate(159.20,876.0) rotate(-32)" x="0" y="6.2" font-size="10.6" text-anchor="end" fill="#222">Signature 3</text>
<text transform="translate(198.05,876.0) rotate(-32)" x="0" y="6.2" font-size="10.6" text-anchor="end" fill="#222">HRD</text>
<text transform="translate(236.90,876.0) rotate(-32)" x="0" y="6.2" font-size="10.6" text-anchor="end" fill="#222">CINScore</text>
<text transform="translate(275.75,876.0) rotate(-32)" x="0" y="6.2" font-size="10.6" text-anchor="end" fill="#222">Neoantigen load</text>
<text transform="translate(314.60,876.0) rotate(-32)" x="0" y="6.2" font-size="10.6" text-anchor="end" fill="#222">MHC Class I</text>
<text transform="translate(353.45,876.0) rotate(-32)" x="0" y="6.2" font-size="10.6" text-anchor="end" fill="#222">TMEscore</text>
<rect x="397.70" y="750.40" width="7.50" height="115.30" fill="url(#cb)"/>
<text x="408.50" y="760.97" font-size="8.3" text-anchor="start" fill="#222">1</text>
<text x="408.50" y="786.17" font-size="8.3" text-anchor="start" fill="#222">0.5</text>
<text x="408.50" y="811.07" font-size="8.3" text-anchor="start" fill="#222">0</text>
<text x="408.50" y="836.17" font-size="8.3" text-anchor="start" fill="#222">-0.5</text>
<text x="408.50" y="861.27" font-size="8.3" text-anchor="start" fill="#222">-1</text>
<text transform="translate(389.10,809.00) rotate(-90)" x="0" y="2.97" font-size="8.3" text-anchor="middle" fill="#222">Z Score</text>
</g>
<g id="panel-j">
<text x="444.60" y="737.30" font-size="17.4" text-anchor="start" fill="#111" font-weight="bold">j</text>
<text x="659.20" y="740.83" font-size="10.7" text-anchor="middle" fill="#222" font-weight="bold">FUSCCTNBC RNA</text>
<line x1="505.10" y1="744.50" x2="812.20" y2="744.50" stroke="#333" stroke-width="0.9"/>
<rect x="505.10" y="750.40" width="35.50" height="36.10" fill="#bf5a50"/>
<rect x="543.93" y="750.40" width="35.50" height="36.10" fill="#bc554c"/>
<rect x="582.76" y="750.40" width="35.50" height="36.10" fill="#bf5a50"/>
<rect x="621.59" y="750.40" width="35.50" height="36.10" fill="#b0413a"/>
<rect x="660.42" y="750.40" width="35.50" height="36.10" fill="#b8504a"/>
<rect x="699.25" y="750.40" width="35.50" height="36.10" fill="#2472a9"/>
<rect x="738.08" y="750.40" width="35.50" height="36.10" fill="#ad3d35"/>
<rect x="776.91" y="750.40" width="35.50" height="36.10" fill="#bf5a50"/>
<rect x="505.10" y="790.10" width="35.50" height="36.10" fill="#2472a9"/>
<text x="522.85" y="814.55" font-size="12" text-anchor="middle" fill="#111" stroke="#111" stroke-width="0.35">**</text>
<rect x="543.93" y="790.10" width="35.50" height="36.10" fill="#2472a9"/>
<text x="561.68" y="814.55" font-size="12" text-anchor="middle" fill="#111" stroke="#111" stroke-width="0.35">**</text>
<rect x="582.76" y="790.10" width="35.50" height="36.10" fill="#2472a9"/>
<text x="600.51" y="814.55" font-size="12" text-anchor="middle" fill="#111" stroke="#111" stroke-width="0.35">**</text>
<rect x="621.59" y="790.10" width="35.50" height="36.10" fill="#3580b4"/>
<text x="639.34" y="814.55" font-size="12" text-anchor="middle" fill="#111" stroke="#111" stroke-width="0.35">**</text>
<rect x="660.42" y="790.10" width="35.50" height="36.10" fill="#2e7bb0"/>
<text x="678.17" y="814.55" font-size="12" text-anchor="middle" fill="#111" stroke="#111" stroke-width="0.35">**</text>
<rect x="699.25" y="790.10" width="35.50" height="36.10" fill="#d79890"/>
<text x="717.00" y="811.25" font-size="10.8" text-anchor="middle" fill="#222">ns</text>
<rect x="738.08" y="790.10" width="35.50" height="36.10" fill="#5b9bc5"/>
<text x="755.83" y="811.25" font-size="10.8" text-anchor="middle" fill="#222">ns</text>
<rect x="776.91" y="790.10" width="35.50" height="36.10" fill="#2472a9"/>
<text x="794.66" y="814.55" font-size="12" text-anchor="middle" fill="#111" stroke="#111" stroke-width="0.35">*</text>
<rect x="505.10" y="829.70" width="35.50" height="36.00" fill="#f3dedb"/>
<text x="522.85" y="849.00" font-size="10.8" text-anchor="middle" fill="#222">ns</text>
<rect x="543.93" y="829.70" width="35.50" height="36.00" fill="#fdf8f7"/>
<text x="561.68" y="849.00" font-size="10.8" text-anchor="middle" fill="#222">ns</text>
<rect x="582.76" y="829.70" width="35.50" height="36.00" fill="#fbf0ee"/>
<text x="600.51" y="854.10" font-size="12" text-anchor="middle" fill="#111" stroke="#111" stroke-width="0.35">*</text>
<rect x="621.59" y="829.70" width="35.50" height="36.00" fill="#d4e4ef"/>
<text x="639.34" y="854.10" font-size="12" text-anchor="middle" fill="#111" stroke="#111" stroke-width="0.35">**</text>
<rect x="660.42" y="829.70" width="35.50" height="36.00" fill="#f4f9fb"/>
<text x="678.17" y="854.10" font-size="12" text-anchor="middle" fill="#111" stroke="#111" stroke-width="0.35">**</text>
<rect x="699.25" y="829.70" width="35.50" height="36.00" fill="#cf847b"/>
<text x="717.00" y="849.00" font-size="10.8" text-anchor="middle" fill="#222">ns</text>
<rect x="738.08" y="829.70" width="35.50" height="36.00" fill="#a5c9e0"/>
<text x="755.83" y="849.00" font-size="10.8" text-anchor="middle" fill="#222">ns</text>
<rect x="776.91" y="829.70" width="35.50" height="36.00" fill="#fdf8f7"/>
<text x="794.66" y="849.00" font-size="10.8" text-anchor="middle" fill="#222">ns</text>
<text x="500.00" y="772.24" font-size="10.6" text-anchor="end" fill="#222">Two-hit</text>
<text x="500.00" y="811.94" font-size="10.6" text-anchor="end" fill="#222">No two-hit</text>
<text x="500.00" y="851.49" font-size="10.6" text-anchor="end" fill="#222">Wild type</text>
<text transform="translate(525.05,876.0) rotate(-32)" x="0" y="6.2" font-size="10.6" text-anchor="end" fill="#222">BER</text>
<text transform="translate(563.88,876.0) rotate(-32)" x="0" y="6.2" font-size="10.6" text-anchor="end" fill="#222">NER</text>
<text transform="translate(602.71,876.0) rotate(-32)" x="0" y="6.2" font-size="10.6" text-anchor="end" fill="#222">MMR</text>
<text transform="translate(641.54,876.0) rotate(-32)" x="0" y="6.2" font-size="10.6" text-anchor="end" fill="#222">FA</text>
<text transform="translate(680.37,876.0) rotate(-32)" x="0" y="6.2" font-size="10.6" text-anchor="end" fill="#222">HR</text>
<text transform="translate(719.20,876.0) rotate(-32)" x="0" y="6.2" font-size="10.6" text-anchor="end" fill="#222">NHEJ</text>
<text transform="translate(758.03,876.0) rotate(-32)" x="0" y="6.2" font-size="10.6" text-anchor="end" fill="#222">DR</text>
<text transform="translate(796.86,876.0) rotate(-32)" x="0" y="6.2" font-size="10.6" text-anchor="end" fill="#222">TLS</text>
<rect x="840.80" y="749.80" width="7.80" height="115.60" fill="url(#cb)"/>
<text x="852.40" y="760.37" font-size="8.3" text-anchor="start" fill="#222">1</text>
<text x="852.40" y="785.37" font-size="8.3" text-anchor="start" fill="#222">0.5</text>
<text x="852.40" y="810.67" font-size="8.3" text-anchor="start" fill="#222">0</text>
<text x="852.40" y="835.77" font-size="8.3" text-anchor="start" fill="#222">-0.5</text>
<text x="852.40" y="860.87" font-size="8.3" text-anchor="start" fill="#222">-1</text>
<text transform="translate(831.50,808.50) rotate(-90)" x="0" y="2.97" font-size="8.3" text-anchor="middle" fill="#222">Average expression (Z Score)</text>
</g>
</svg>
</body>
</html>
